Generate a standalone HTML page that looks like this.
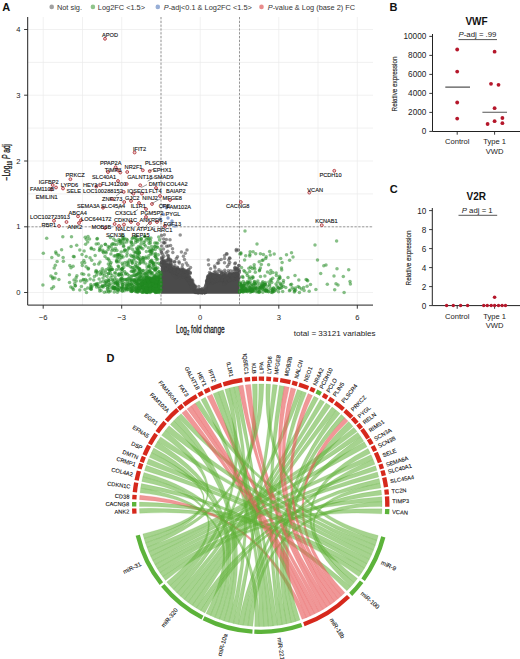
<!DOCTYPE html>
<html><head><meta charset="utf-8"><style>
html,body{margin:0;padding:0;background:#fff;}
body{width:520px;height:659px;overflow:hidden;}
svg{display:block;font-family:'Liberation Sans', sans-serif;}
</style></head><body>
<svg width="520" height="659" viewBox="0 0 520 659">
<path d="M43.2 17V305.1M82.5 17V305.1M121.7 17V305.1M161 17V305.1M200.2 17V305.1M239.5 17V305.1M278.8 17V305.1M318 17V305.1M357.3 17V305.1M27.7 292.5H373M27.7 259.6H373M27.7 226.8H373M27.7 193.9H373M27.7 161H373M27.7 128.1H373M27.7 95.2H373M27.7 62.4H373M27.7 29.5H373" stroke="#ebebeb" stroke-width="0.7" fill="none"/>
<path d="M161.0 293.8 L161.0 262.9 L162.3 263.6 L163.6 264.2 L164.9 264.9 L166.2 265.5 L167.5 266.6 L168.8 267.7 L170.2 268.8 L171.5 269.9 L172.8 271.0 L174.1 272.1 L175.4 272.3 L176.7 272.4 L178.0 272.6 L179.3 272.7 L180.6 272.8 L181.9 273.0 L183.2 273.1 L184.5 273.3 L185.9 273.4 L187.2 275.5 L188.5 277.7 L189.8 279.8 L191.1 282.1 L192.4 284.4 L193.7 286.7 L195.0 289.0 L196.3 291.2 L197.6 292.5 L198.9 292.5 L200.2 292.5 L201.6 292.5 L202.9 292.5 L204.2 292.5 L205.5 289.9 L206.8 284.0 L208.1 280.2 L209.4 279.1 L210.7 278.0 L212.0 278.0 L213.3 278.0 L214.6 278.0 L216.0 278.0 L217.3 278.0 L218.6 278.0 L219.9 278.0 L221.2 278.0 L222.5 278.0 L223.8 278.0 L225.1 278.0 L226.4 278.0 L227.7 278.0 L229.0 277.6 L230.3 277.2 L231.7 276.9 L233.0 276.5 L234.3 276.1 L235.6 275.6 L236.9 275.1 L238.2 274.6 L239.5 274.1 L239.5 293.8Z" fill="#4b4b4b"/><g fill="#228b22" fill-opacity="0.55"><circle cx="157.1" cy="277.6" r="1.75"/><circle cx="151.8" cy="279.4" r="1.75"/><circle cx="141.9" cy="285.3" r="1.75"/><circle cx="160.2" cy="291.0" r="1.75"/><circle cx="159.0" cy="279.8" r="1.75"/><circle cx="96.5" cy="287.0" r="1.75"/><circle cx="159.8" cy="280.8" r="1.75"/><circle cx="157.8" cy="282.6" r="1.75"/><circle cx="156.0" cy="284.8" r="1.75"/><circle cx="149.0" cy="278.2" r="1.75"/><circle cx="155.1" cy="285.3" r="1.75"/><circle cx="147.1" cy="288.2" r="1.75"/><circle cx="143.7" cy="283.9" r="1.75"/><circle cx="158.8" cy="282.2" r="1.75"/><circle cx="136.0" cy="290.8" r="1.75"/><circle cx="137.9" cy="292.3" r="1.75"/><circle cx="114.6" cy="288.0" r="1.75"/><circle cx="110.9" cy="283.7" r="1.75"/><circle cx="131.4" cy="284.1" r="1.75"/><circle cx="138.3" cy="284.4" r="1.75"/><circle cx="152.0" cy="287.9" r="1.75"/><circle cx="151.5" cy="289.4" r="1.75"/><circle cx="150.1" cy="287.2" r="1.75"/><circle cx="145.5" cy="282.6" r="1.75"/><circle cx="121.0" cy="280.0" r="1.75"/><circle cx="146.4" cy="287.3" r="1.75"/><circle cx="138.5" cy="291.1" r="1.75"/><circle cx="93.7" cy="280.1" r="1.75"/><circle cx="160.4" cy="287.6" r="1.75"/><circle cx="152.6" cy="283.2" r="1.75"/><circle cx="142.5" cy="282.4" r="1.75"/><circle cx="155.4" cy="282.6" r="1.75"/><circle cx="108.9" cy="292.1" r="1.75"/><circle cx="152.7" cy="290.5" r="1.75"/><circle cx="154.9" cy="282.6" r="1.75"/><circle cx="139.9" cy="289.1" r="1.75"/><circle cx="157.1" cy="289.4" r="1.75"/><circle cx="150.8" cy="280.3" r="1.75"/><circle cx="158.5" cy="289.1" r="1.75"/><circle cx="160.0" cy="286.9" r="1.75"/><circle cx="155.3" cy="292.4" r="1.75"/><circle cx="154.5" cy="287.0" r="1.75"/><circle cx="141.6" cy="288.1" r="1.75"/><circle cx="146.8" cy="291.1" r="1.75"/><circle cx="109.6" cy="287.4" r="1.75"/><circle cx="151.6" cy="277.8" r="1.75"/><circle cx="160.9" cy="284.6" r="1.75"/><circle cx="155.7" cy="291.0" r="1.75"/><circle cx="156.5" cy="284.0" r="1.75"/><circle cx="160.0" cy="280.1" r="1.75"/><circle cx="160.8" cy="281.4" r="1.75"/><circle cx="156.8" cy="284.0" r="1.75"/><circle cx="110.5" cy="290.9" r="1.75"/><circle cx="151.5" cy="283.1" r="1.75"/><circle cx="145.5" cy="290.3" r="1.75"/><circle cx="157.0" cy="276.9" r="1.75"/><circle cx="158.0" cy="291.1" r="1.75"/><circle cx="160.0" cy="280.8" r="1.75"/><circle cx="146.2" cy="289.8" r="1.75"/><circle cx="150.6" cy="282.2" r="1.75"/><circle cx="152.5" cy="290.1" r="1.75"/><circle cx="140.0" cy="283.5" r="1.75"/><circle cx="159.5" cy="285.4" r="1.75"/><circle cx="155.9" cy="281.9" r="1.75"/><circle cx="143.6" cy="280.3" r="1.75"/><circle cx="128.3" cy="287.2" r="1.75"/><circle cx="159.4" cy="273.9" r="1.75"/><circle cx="105.8" cy="285.3" r="1.75"/><circle cx="150.3" cy="278.2" r="1.75"/><circle cx="160.8" cy="285.2" r="1.75"/><circle cx="159.7" cy="283.4" r="1.75"/><circle cx="158.7" cy="275.9" r="1.75"/><circle cx="137.7" cy="290.2" r="1.75"/><circle cx="144.5" cy="277.2" r="1.75"/><circle cx="87.7" cy="288.1" r="1.75"/><circle cx="157.1" cy="276.0" r="1.75"/><circle cx="155.7" cy="268.3" r="1.75"/><circle cx="142.0" cy="288.9" r="1.75"/><circle cx="149.2" cy="271.4" r="1.75"/><circle cx="141.1" cy="287.0" r="1.75"/><circle cx="156.3" cy="284.9" r="1.75"/><circle cx="147.8" cy="291.5" r="1.75"/><circle cx="158.0" cy="289.5" r="1.75"/><circle cx="102.0" cy="286.8" r="1.75"/><circle cx="159.5" cy="277.4" r="1.75"/><circle cx="158.0" cy="281.1" r="1.75"/><circle cx="141.4" cy="287.3" r="1.75"/><circle cx="159.4" cy="289.3" r="1.75"/><circle cx="131.3" cy="279.4" r="1.75"/><circle cx="141.5" cy="277.6" r="1.75"/><circle cx="119.4" cy="274.6" r="1.75"/><circle cx="137.9" cy="283.7" r="1.75"/><circle cx="146.0" cy="276.5" r="1.75"/><circle cx="155.5" cy="292.0" r="1.75"/><circle cx="122.4" cy="291.0" r="1.75"/><circle cx="153.2" cy="278.7" r="1.75"/><circle cx="144.6" cy="290.4" r="1.75"/><circle cx="155.4" cy="289.5" r="1.75"/><circle cx="129.3" cy="278.5" r="1.75"/><circle cx="146.6" cy="280.6" r="1.75"/><circle cx="130.9" cy="284.3" r="1.75"/><circle cx="108.3" cy="279.6" r="1.75"/><circle cx="159.7" cy="278.0" r="1.75"/><circle cx="134.5" cy="282.1" r="1.75"/><circle cx="148.3" cy="284.0" r="1.75"/><circle cx="130.4" cy="291.1" r="1.75"/><circle cx="142.7" cy="282.6" r="1.75"/><circle cx="154.2" cy="290.8" r="1.75"/><circle cx="159.2" cy="280.7" r="1.75"/><circle cx="110.9" cy="277.5" r="1.75"/><circle cx="150.5" cy="283.1" r="1.75"/><circle cx="154.4" cy="291.4" r="1.75"/><circle cx="124.3" cy="290.8" r="1.75"/><circle cx="156.5" cy="281.4" r="1.75"/><circle cx="124.3" cy="279.4" r="1.75"/><circle cx="145.9" cy="292.2" r="1.75"/><circle cx="159.3" cy="290.6" r="1.75"/><circle cx="159.1" cy="287.6" r="1.75"/><circle cx="114.3" cy="288.2" r="1.75"/><circle cx="143.2" cy="288.2" r="1.75"/><circle cx="157.6" cy="290.3" r="1.75"/><circle cx="149.3" cy="289.1" r="1.75"/><circle cx="159.1" cy="288.2" r="1.75"/><circle cx="157.3" cy="291.6" r="1.75"/><circle cx="158.6" cy="286.5" r="1.75"/><circle cx="117.4" cy="292.2" r="1.75"/><circle cx="145.1" cy="289.2" r="1.75"/><circle cx="159.2" cy="271.6" r="1.75"/><circle cx="158.7" cy="288.0" r="1.75"/><circle cx="157.2" cy="289.7" r="1.75"/><circle cx="99.1" cy="279.0" r="1.75"/><circle cx="108.7" cy="273.4" r="1.75"/><circle cx="140.3" cy="276.5" r="1.75"/><circle cx="158.7" cy="281.6" r="1.75"/><circle cx="154.9" cy="291.4" r="1.75"/><circle cx="146.8" cy="270.0" r="1.75"/><circle cx="155.7" cy="288.9" r="1.75"/><circle cx="155.7" cy="281.4" r="1.75"/><circle cx="159.7" cy="290.5" r="1.75"/><circle cx="106.0" cy="269.8" r="1.75"/><circle cx="132.2" cy="271.2" r="1.75"/><circle cx="105.1" cy="283.1" r="1.75"/><circle cx="152.1" cy="290.8" r="1.75"/><circle cx="152.1" cy="280.5" r="1.75"/><circle cx="108.3" cy="282.2" r="1.75"/><circle cx="150.5" cy="278.3" r="1.75"/><circle cx="156.0" cy="282.1" r="1.75"/><circle cx="139.6" cy="279.1" r="1.75"/><circle cx="158.8" cy="285.5" r="1.75"/><circle cx="151.4" cy="282.3" r="1.75"/><circle cx="122.5" cy="284.7" r="1.75"/><circle cx="147.3" cy="282.4" r="1.75"/><circle cx="158.9" cy="284.6" r="1.75"/><circle cx="131.8" cy="281.5" r="1.75"/><circle cx="153.6" cy="285.1" r="1.75"/><circle cx="135.4" cy="291.6" r="1.75"/><circle cx="156.5" cy="288.5" r="1.75"/><circle cx="147.2" cy="284.3" r="1.75"/><circle cx="139.6" cy="290.3" r="1.75"/><circle cx="143.9" cy="275.1" r="1.75"/><circle cx="157.1" cy="290.0" r="1.75"/><circle cx="158.0" cy="288.9" r="1.75"/><circle cx="151.9" cy="286.3" r="1.75"/><circle cx="80.5" cy="281.0" r="1.75"/><circle cx="158.9" cy="276.7" r="1.75"/><circle cx="150.1" cy="289.6" r="1.75"/><circle cx="113.8" cy="282.0" r="1.75"/><circle cx="159.7" cy="279.7" r="1.75"/><circle cx="147.3" cy="277.2" r="1.75"/><circle cx="155.7" cy="290.8" r="1.75"/><circle cx="153.2" cy="284.3" r="1.75"/><circle cx="147.1" cy="292.4" r="1.75"/><circle cx="155.5" cy="286.1" r="1.75"/><circle cx="117.9" cy="289.6" r="1.75"/><circle cx="149.6" cy="278.2" r="1.75"/><circle cx="136.6" cy="288.9" r="1.75"/><circle cx="157.4" cy="291.2" r="1.75"/><circle cx="91.1" cy="289.3" r="1.75"/><circle cx="145.6" cy="292.0" r="1.75"/><circle cx="159.9" cy="284.8" r="1.75"/><circle cx="117.5" cy="284.4" r="1.75"/><circle cx="127.3" cy="289.1" r="1.75"/><circle cx="131.6" cy="291.5" r="1.75"/><circle cx="149.8" cy="270.3" r="1.75"/><circle cx="125.7" cy="288.6" r="1.75"/><circle cx="143.7" cy="290.8" r="1.75"/><circle cx="140.7" cy="273.6" r="1.75"/><circle cx="159.5" cy="292.4" r="1.75"/><circle cx="151.8" cy="282.4" r="1.75"/><circle cx="151.5" cy="286.3" r="1.75"/><circle cx="143.0" cy="284.2" r="1.75"/><circle cx="126.8" cy="287.9" r="1.75"/><circle cx="145.6" cy="289.5" r="1.75"/><circle cx="146.1" cy="291.3" r="1.75"/><circle cx="153.3" cy="285.5" r="1.75"/><circle cx="155.5" cy="287.4" r="1.75"/><circle cx="151.6" cy="287.0" r="1.75"/><circle cx="160.1" cy="281.8" r="1.75"/><circle cx="152.7" cy="285.9" r="1.75"/><circle cx="139.7" cy="287.2" r="1.75"/><circle cx="147.8" cy="273.7" r="1.75"/><circle cx="90.9" cy="287.4" r="1.75"/><circle cx="156.1" cy="278.8" r="1.75"/><circle cx="131.1" cy="280.4" r="1.75"/><circle cx="147.9" cy="291.1" r="1.75"/><circle cx="144.9" cy="279.4" r="1.75"/><circle cx="152.5" cy="288.3" r="1.75"/><circle cx="157.0" cy="286.3" r="1.75"/><circle cx="144.4" cy="283.6" r="1.75"/><circle cx="136.5" cy="291.8" r="1.75"/><circle cx="149.6" cy="281.4" r="1.75"/><circle cx="160.2" cy="279.7" r="1.75"/><circle cx="158.9" cy="282.8" r="1.75"/><circle cx="142.8" cy="279.3" r="1.75"/><circle cx="132.0" cy="290.9" r="1.75"/><circle cx="159.9" cy="287.3" r="1.75"/><circle cx="137.5" cy="289.6" r="1.75"/><circle cx="134.1" cy="275.2" r="1.75"/><circle cx="157.0" cy="283.4" r="1.75"/><circle cx="135.9" cy="276.0" r="1.75"/><circle cx="147.8" cy="291.7" r="1.75"/><circle cx="139.8" cy="291.2" r="1.75"/><circle cx="122.3" cy="290.9" r="1.75"/><circle cx="158.1" cy="287.8" r="1.75"/><circle cx="158.8" cy="279.1" r="1.75"/><circle cx="122.6" cy="284.6" r="1.75"/><circle cx="156.3" cy="283.9" r="1.75"/><circle cx="149.2" cy="289.1" r="1.75"/><circle cx="113.1" cy="287.0" r="1.75"/><circle cx="142.3" cy="285.8" r="1.75"/><circle cx="75.4" cy="285.7" r="1.75"/><circle cx="160.0" cy="289.0" r="1.75"/><circle cx="159.4" cy="286.3" r="1.75"/><circle cx="153.8" cy="283.8" r="1.75"/><circle cx="142.8" cy="288.2" r="1.75"/><circle cx="159.6" cy="283.6" r="1.75"/><circle cx="160.4" cy="291.3" r="1.75"/><circle cx="154.9" cy="290.4" r="1.75"/><circle cx="153.4" cy="289.5" r="1.75"/><circle cx="126.9" cy="290.1" r="1.75"/><circle cx="154.7" cy="290.5" r="1.75"/><circle cx="160.8" cy="275.5" r="1.75"/><circle cx="158.6" cy="277.7" r="1.75"/><circle cx="155.3" cy="285.2" r="1.75"/><circle cx="144.2" cy="287.3" r="1.75"/><circle cx="142.0" cy="280.2" r="1.75"/><circle cx="132.7" cy="290.5" r="1.75"/><circle cx="147.6" cy="292.1" r="1.75"/><circle cx="103.3" cy="287.1" r="1.75"/><circle cx="155.8" cy="278.1" r="1.75"/><circle cx="158.3" cy="290.8" r="1.75"/><circle cx="148.9" cy="281.5" r="1.75"/><circle cx="154.5" cy="284.2" r="1.75"/><circle cx="132.7" cy="280.0" r="1.75"/><circle cx="159.4" cy="282.1" r="1.75"/><circle cx="147.0" cy="285.7" r="1.75"/><circle cx="114.4" cy="287.8" r="1.75"/><circle cx="150.1" cy="292.5" r="1.75"/><circle cx="152.9" cy="286.1" r="1.75"/><circle cx="157.0" cy="285.7" r="1.75"/><circle cx="106.2" cy="283.0" r="1.75"/><circle cx="146.8" cy="275.3" r="1.75"/><circle cx="117.4" cy="281.4" r="1.75"/><circle cx="122.8" cy="282.6" r="1.75"/><circle cx="125.7" cy="279.4" r="1.75"/><circle cx="159.0" cy="289.7" r="1.75"/><circle cx="157.9" cy="286.4" r="1.75"/><circle cx="137.9" cy="274.2" r="1.75"/><circle cx="155.1" cy="269.6" r="1.75"/><circle cx="156.2" cy="284.8" r="1.75"/><circle cx="140.6" cy="280.9" r="1.75"/><circle cx="149.5" cy="281.1" r="1.75"/><circle cx="154.5" cy="281.8" r="1.75"/><circle cx="154.2" cy="281.9" r="1.75"/><circle cx="155.0" cy="278.9" r="1.75"/><circle cx="159.6" cy="283.3" r="1.75"/><circle cx="100.7" cy="282.1" r="1.75"/><circle cx="140.0" cy="289.6" r="1.75"/><circle cx="157.2" cy="285.1" r="1.75"/><circle cx="156.1" cy="292.2" r="1.75"/><circle cx="143.6" cy="281.4" r="1.75"/><circle cx="149.3" cy="279.7" r="1.75"/><circle cx="159.8" cy="289.0" r="1.75"/><circle cx="160.8" cy="279.8" r="1.75"/><circle cx="151.1" cy="272.5" r="1.75"/><circle cx="129.3" cy="275.8" r="1.75"/><circle cx="145.6" cy="283.7" r="1.75"/><circle cx="144.2" cy="291.3" r="1.75"/><circle cx="142.8" cy="286.4" r="1.75"/><circle cx="147.1" cy="273.2" r="1.75"/><circle cx="149.8" cy="290.0" r="1.75"/><circle cx="145.2" cy="280.2" r="1.75"/><circle cx="157.0" cy="280.3" r="1.75"/><circle cx="155.7" cy="286.0" r="1.75"/><circle cx="158.1" cy="289.3" r="1.75"/><circle cx="160.0" cy="287.2" r="1.75"/><circle cx="123.9" cy="286.1" r="1.75"/><circle cx="152.0" cy="290.1" r="1.75"/><circle cx="160.9" cy="283.8" r="1.75"/><circle cx="154.1" cy="286.3" r="1.75"/><circle cx="137.4" cy="291.4" r="1.75"/><circle cx="156.0" cy="281.6" r="1.75"/><circle cx="156.0" cy="284.1" r="1.75"/><circle cx="136.6" cy="267.1" r="1.75"/><circle cx="159.0" cy="288.1" r="1.75"/><circle cx="160.9" cy="272.7" r="1.75"/><circle cx="115.8" cy="288.2" r="1.75"/><circle cx="157.4" cy="290.7" r="1.75"/><circle cx="147.0" cy="284.4" r="1.75"/><circle cx="146.1" cy="287.9" r="1.75"/><circle cx="157.4" cy="288.3" r="1.75"/><circle cx="160.2" cy="287.8" r="1.75"/><circle cx="159.7" cy="291.8" r="1.75"/><circle cx="101.1" cy="290.6" r="1.75"/><circle cx="152.1" cy="286.6" r="1.75"/><circle cx="160.8" cy="282.2" r="1.75"/><circle cx="150.7" cy="291.2" r="1.75"/><circle cx="141.2" cy="283.6" r="1.75"/><circle cx="148.4" cy="286.5" r="1.75"/><circle cx="138.7" cy="288.0" r="1.75"/><circle cx="113.2" cy="287.9" r="1.75"/><circle cx="138.8" cy="268.7" r="1.75"/><circle cx="156.3" cy="290.1" r="1.75"/><circle cx="153.6" cy="282.9" r="1.75"/><circle cx="161.0" cy="274.5" r="1.75"/><circle cx="147.1" cy="292.0" r="1.75"/><circle cx="144.4" cy="290.1" r="1.75"/><circle cx="141.6" cy="282.9" r="1.75"/><circle cx="160.3" cy="277.0" r="1.75"/><circle cx="135.4" cy="289.6" r="1.75"/><circle cx="139.1" cy="289.2" r="1.75"/><circle cx="106.6" cy="291.7" r="1.75"/><circle cx="153.3" cy="281.4" r="1.75"/><circle cx="144.9" cy="282.2" r="1.75"/><circle cx="120.3" cy="290.2" r="1.75"/><circle cx="155.1" cy="276.7" r="1.75"/><circle cx="157.4" cy="291.2" r="1.75"/><circle cx="94.4" cy="276.6" r="1.75"/><circle cx="135.9" cy="283.3" r="1.75"/><circle cx="142.5" cy="292.3" r="1.75"/><circle cx="145.3" cy="284.1" r="1.75"/><circle cx="146.0" cy="282.6" r="1.75"/><circle cx="150.9" cy="279.0" r="1.75"/><circle cx="160.7" cy="290.0" r="1.75"/><circle cx="149.6" cy="287.3" r="1.75"/><circle cx="138.6" cy="279.0" r="1.75"/><circle cx="117.8" cy="283.9" r="1.75"/><circle cx="156.9" cy="290.3" r="1.75"/><circle cx="157.1" cy="291.7" r="1.75"/><circle cx="143.6" cy="292.0" r="1.75"/><circle cx="159.3" cy="281.9" r="1.75"/><circle cx="134.4" cy="286.5" r="1.75"/><circle cx="159.0" cy="287.6" r="1.75"/><circle cx="149.8" cy="291.7" r="1.75"/><circle cx="118.1" cy="290.2" r="1.75"/><circle cx="154.9" cy="290.2" r="1.75"/><circle cx="157.3" cy="272.8" r="1.75"/><circle cx="142.7" cy="286.5" r="1.75"/><circle cx="134.1" cy="290.1" r="1.75"/><circle cx="145.2" cy="289.9" r="1.75"/><circle cx="160.4" cy="286.8" r="1.75"/><circle cx="154.1" cy="288.2" r="1.75"/><circle cx="160.7" cy="288.5" r="1.75"/><circle cx="136.5" cy="283.4" r="1.75"/><circle cx="160.1" cy="278.8" r="1.75"/><circle cx="104.3" cy="292.3" r="1.75"/><circle cx="149.0" cy="281.3" r="1.75"/><circle cx="156.2" cy="290.2" r="1.75"/><circle cx="134.4" cy="281.7" r="1.75"/><circle cx="145.7" cy="283.8" r="1.75"/><circle cx="143.2" cy="292.1" r="1.75"/><circle cx="160.5" cy="279.5" r="1.75"/><circle cx="146.2" cy="287.1" r="1.75"/><circle cx="160.9" cy="289.7" r="1.75"/><circle cx="157.8" cy="279.5" r="1.75"/><circle cx="131.7" cy="283.9" r="1.75"/><circle cx="137.9" cy="273.4" r="1.75"/><circle cx="151.8" cy="288.7" r="1.75"/><circle cx="158.3" cy="290.1" r="1.75"/><circle cx="137.9" cy="281.0" r="1.75"/><circle cx="160.2" cy="272.7" r="1.75"/><circle cx="134.5" cy="280.4" r="1.75"/><circle cx="139.6" cy="269.6" r="1.75"/><circle cx="156.0" cy="278.0" r="1.75"/><circle cx="138.8" cy="284.7" r="1.75"/><circle cx="148.2" cy="289.0" r="1.75"/><circle cx="134.3" cy="270.0" r="1.75"/><circle cx="150.8" cy="291.6" r="1.75"/><circle cx="156.5" cy="288.3" r="1.75"/><circle cx="108.8" cy="291.1" r="1.75"/><circle cx="83.0" cy="280.0" r="1.75"/><circle cx="122.9" cy="288.0" r="1.75"/><circle cx="156.6" cy="291.6" r="1.75"/><circle cx="130.8" cy="289.3" r="1.75"/><circle cx="148.9" cy="289.1" r="1.75"/><circle cx="152.5" cy="282.9" r="1.75"/><circle cx="134.4" cy="280.3" r="1.75"/><circle cx="156.4" cy="283.3" r="1.75"/><circle cx="158.0" cy="284.2" r="1.75"/><circle cx="155.2" cy="278.0" r="1.75"/><circle cx="145.2" cy="288.9" r="1.75"/><circle cx="142.0" cy="285.1" r="1.75"/><circle cx="157.2" cy="292.0" r="1.75"/><circle cx="141.3" cy="286.6" r="1.75"/><circle cx="133.9" cy="272.5" r="1.75"/><circle cx="157.2" cy="282.4" r="1.75"/><circle cx="147.3" cy="291.7" r="1.75"/><circle cx="158.8" cy="286.6" r="1.75"/><circle cx="153.4" cy="279.1" r="1.75"/><circle cx="140.0" cy="273.1" r="1.75"/><circle cx="95.8" cy="284.6" r="1.75"/><circle cx="138.1" cy="290.7" r="1.75"/><circle cx="155.3" cy="286.8" r="1.75"/><circle cx="143.1" cy="285.2" r="1.75"/><circle cx="153.3" cy="284.5" r="1.75"/><circle cx="158.7" cy="283.5" r="1.75"/><circle cx="132.5" cy="285.5" r="1.75"/><circle cx="128.8" cy="284.0" r="1.75"/><circle cx="141.8" cy="291.7" r="1.75"/><circle cx="155.3" cy="290.9" r="1.75"/><circle cx="149.3" cy="279.5" r="1.75"/><circle cx="140.7" cy="284.2" r="1.75"/><circle cx="151.7" cy="291.5" r="1.75"/><circle cx="142.7" cy="288.2" r="1.75"/><circle cx="136.0" cy="279.3" r="1.75"/><circle cx="152.0" cy="285.3" r="1.75"/><circle cx="141.5" cy="284.5" r="1.75"/><circle cx="156.2" cy="281.3" r="1.75"/><circle cx="144.8" cy="285.8" r="1.75"/><circle cx="149.1" cy="281.0" r="1.75"/><circle cx="124.8" cy="289.1" r="1.75"/><circle cx="155.9" cy="283.1" r="1.75"/><circle cx="157.0" cy="285.6" r="1.75"/><circle cx="146.1" cy="292.0" r="1.75"/><circle cx="151.1" cy="288.7" r="1.75"/><circle cx="130.9" cy="279.1" r="1.75"/><circle cx="145.2" cy="280.4" r="1.75"/><circle cx="152.5" cy="284.1" r="1.75"/><circle cx="99.7" cy="290.9" r="1.75"/><circle cx="152.3" cy="283.9" r="1.75"/><circle cx="145.2" cy="287.5" r="1.75"/><circle cx="137.3" cy="291.1" r="1.75"/><circle cx="140.2" cy="279.9" r="1.75"/><circle cx="129.4" cy="287.8" r="1.75"/><circle cx="150.9" cy="285.7" r="1.75"/><circle cx="141.8" cy="280.7" r="1.75"/><circle cx="160.4" cy="290.3" r="1.75"/><circle cx="137.7" cy="286.9" r="1.75"/><circle cx="153.9" cy="278.6" r="1.75"/><circle cx="86.5" cy="292.4" r="1.75"/><circle cx="159.6" cy="283.9" r="1.75"/><circle cx="115.7" cy="283.7" r="1.75"/><circle cx="96.6" cy="275.0" r="1.75"/><circle cx="152.5" cy="272.7" r="1.75"/><circle cx="157.1" cy="291.2" r="1.75"/><circle cx="156.0" cy="290.2" r="1.75"/><circle cx="159.2" cy="282.2" r="1.75"/><circle cx="157.2" cy="291.5" r="1.75"/><circle cx="156.3" cy="287.7" r="1.75"/><circle cx="160.5" cy="280.1" r="1.75"/><circle cx="132.4" cy="290.6" r="1.75"/><circle cx="151.3" cy="288.8" r="1.75"/><circle cx="151.6" cy="287.8" r="1.75"/><circle cx="149.4" cy="290.7" r="1.75"/><circle cx="116.8" cy="279.8" r="1.75"/><circle cx="135.0" cy="275.5" r="1.75"/><circle cx="153.0" cy="283.2" r="1.75"/><circle cx="149.0" cy="285.6" r="1.75"/><circle cx="156.6" cy="288.5" r="1.75"/><circle cx="158.3" cy="288.7" r="1.75"/><circle cx="156.4" cy="274.0" r="1.75"/><circle cx="137.5" cy="267.8" r="1.75"/><circle cx="151.2" cy="286.8" r="1.75"/><circle cx="158.3" cy="289.5" r="1.75"/><circle cx="155.9" cy="287.0" r="1.75"/><circle cx="150.6" cy="289.2" r="1.75"/><circle cx="143.9" cy="291.0" r="1.75"/><circle cx="160.6" cy="281.6" r="1.75"/><circle cx="160.8" cy="284.4" r="1.75"/><circle cx="159.9" cy="291.1" r="1.75"/><circle cx="149.2" cy="291.8" r="1.75"/><circle cx="157.5" cy="291.9" r="1.75"/><circle cx="124.5" cy="271.6" r="1.75"/><circle cx="136.0" cy="290.1" r="1.75"/><circle cx="157.0" cy="291.4" r="1.75"/><circle cx="98.0" cy="283.4" r="1.75"/><circle cx="157.3" cy="289.2" r="1.75"/><circle cx="149.4" cy="287.6" r="1.75"/><circle cx="131.5" cy="287.3" r="1.75"/><circle cx="147.5" cy="291.1" r="1.75"/><circle cx="158.0" cy="288.8" r="1.75"/><circle cx="158.5" cy="292.0" r="1.75"/><circle cx="159.8" cy="275.2" r="1.75"/><circle cx="152.3" cy="262.4" r="1.75"/><circle cx="139.0" cy="271.2" r="1.75"/><circle cx="96.3" cy="284.9" r="1.75"/><circle cx="141.8" cy="292.0" r="1.75"/><circle cx="147.9" cy="276.5" r="1.75"/><circle cx="86.8" cy="280.8" r="1.75"/><circle cx="147.0" cy="280.0" r="1.75"/><circle cx="130.3" cy="266.8" r="1.75"/><circle cx="152.9" cy="289.5" r="1.75"/><circle cx="154.9" cy="284.5" r="1.75"/><circle cx="145.2" cy="291.2" r="1.75"/><circle cx="153.5" cy="285.6" r="1.75"/><circle cx="131.9" cy="291.3" r="1.75"/><circle cx="142.8" cy="270.5" r="1.75"/><circle cx="160.3" cy="283.0" r="1.75"/><circle cx="138.5" cy="280.0" r="1.75"/><circle cx="79.8" cy="290.0" r="1.75"/><circle cx="147.2" cy="279.3" r="1.75"/><circle cx="114.2" cy="292.0" r="1.75"/><circle cx="150.8" cy="282.8" r="1.75"/><circle cx="114.8" cy="287.6" r="1.75"/><circle cx="147.0" cy="281.6" r="1.75"/><circle cx="151.6" cy="279.6" r="1.75"/><circle cx="153.5" cy="278.1" r="1.75"/><circle cx="121.8" cy="278.4" r="1.75"/><circle cx="155.1" cy="288.5" r="1.75"/><circle cx="136.9" cy="281.9" r="1.75"/><circle cx="151.5" cy="251.6" r="1.75"/><circle cx="110.0" cy="270.0" r="1.75"/><circle cx="154.4" cy="275.5" r="1.75"/><circle cx="128.3" cy="262.3" r="1.75"/><circle cx="129.5" cy="281.3" r="1.75"/><circle cx="109.6" cy="270.7" r="1.75"/><circle cx="122.2" cy="263.3" r="1.75"/><circle cx="116.6" cy="260.4" r="1.75"/><circle cx="159.0" cy="271.5" r="1.75"/><circle cx="135.5" cy="252.7" r="1.75"/><circle cx="133.1" cy="244.8" r="1.75"/><circle cx="122.6" cy="238.4" r="1.75"/><circle cx="139.6" cy="263.7" r="1.75"/><circle cx="46.7" cy="238.3" r="1.75"/><circle cx="137.3" cy="240.1" r="1.75"/><circle cx="117.2" cy="258.1" r="1.75"/><circle cx="102.6" cy="285.5" r="1.75"/><circle cx="119.9" cy="258.9" r="1.75"/><circle cx="149.4" cy="265.4" r="1.75"/><circle cx="137.8" cy="255.2" r="1.75"/><circle cx="120.2" cy="279.3" r="1.75"/><circle cx="144.7" cy="236.4" r="1.75"/><circle cx="104.5" cy="275.5" r="1.75"/><circle cx="122.1" cy="236.0" r="1.75"/><circle cx="122.5" cy="279.1" r="1.75"/><circle cx="153.7" cy="268.5" r="1.75"/><circle cx="133.4" cy="256.5" r="1.75"/><circle cx="139.2" cy="279.9" r="1.75"/><circle cx="105.6" cy="272.4" r="1.75"/><circle cx="142.8" cy="257.7" r="1.75"/><circle cx="136.0" cy="252.1" r="1.75"/><circle cx="137.4" cy="241.5" r="1.75"/><circle cx="94.4" cy="264.2" r="1.75"/><circle cx="149.0" cy="238.5" r="1.75"/><circle cx="143.7" cy="278.8" r="1.75"/><circle cx="151.4" cy="260.9" r="1.75"/><circle cx="105.7" cy="251.8" r="1.75"/><circle cx="148.0" cy="287.5" r="1.75"/><circle cx="125.3" cy="249.9" r="1.75"/><circle cx="99.8" cy="247.9" r="1.75"/><circle cx="153.2" cy="263.6" r="1.75"/><circle cx="119.9" cy="241.0" r="1.75"/><circle cx="119.6" cy="255.4" r="1.75"/><circle cx="136.8" cy="274.5" r="1.75"/><circle cx="91.2" cy="248.7" r="1.75"/><circle cx="118.1" cy="266.1" r="1.75"/><circle cx="105.0" cy="256.4" r="1.75"/><circle cx="71.5" cy="236.7" r="1.75"/><circle cx="95.2" cy="255.6" r="1.75"/><circle cx="99.4" cy="250.5" r="1.75"/><circle cx="141.2" cy="248.0" r="1.75"/><circle cx="115.9" cy="282.6" r="1.75"/><circle cx="132.1" cy="289.0" r="1.75"/><circle cx="122.0" cy="287.7" r="1.75"/><circle cx="111.4" cy="269.2" r="1.75"/><circle cx="136.0" cy="238.3" r="1.75"/><circle cx="140.4" cy="270.2" r="1.75"/><circle cx="145.0" cy="241.0" r="1.75"/><circle cx="128.2" cy="278.2" r="1.75"/><circle cx="126.9" cy="285.2" r="1.75"/><circle cx="150.7" cy="272.4" r="1.75"/><circle cx="155.1" cy="246.2" r="1.75"/><circle cx="124.1" cy="238.1" r="1.75"/><circle cx="122.8" cy="265.0" r="1.75"/><circle cx="151.8" cy="273.8" r="1.75"/><circle cx="138.1" cy="249.9" r="1.75"/><circle cx="133.7" cy="271.4" r="1.75"/><circle cx="76.1" cy="277.8" r="1.75"/><circle cx="55.7" cy="251.9" r="1.75"/><circle cx="143.0" cy="287.5" r="1.75"/><circle cx="114.6" cy="250.6" r="1.75"/><circle cx="97.0" cy="239.0" r="1.75"/><circle cx="53.6" cy="286.7" r="1.75"/><circle cx="152.4" cy="250.2" r="1.75"/><circle cx="138.3" cy="289.4" r="1.75"/><circle cx="117.2" cy="285.9" r="1.75"/><circle cx="137.5" cy="278.3" r="1.75"/><circle cx="136.0" cy="236.0" r="1.75"/><circle cx="157.0" cy="288.5" r="1.75"/><circle cx="154.6" cy="269.6" r="1.75"/><circle cx="143.3" cy="270.4" r="1.75"/><circle cx="149.9" cy="283.7" r="1.75"/><circle cx="134.8" cy="237.4" r="1.75"/><circle cx="143.8" cy="242.5" r="1.75"/><circle cx="135.5" cy="264.7" r="1.75"/><circle cx="155.1" cy="254.5" r="1.75"/><circle cx="152.0" cy="252.6" r="1.75"/><circle cx="118.1" cy="256.9" r="1.75"/><circle cx="115.5" cy="248.5" r="1.75"/><circle cx="98.3" cy="243.8" r="1.75"/><circle cx="118.4" cy="285.2" r="1.75"/><circle cx="136.7" cy="287.2" r="1.75"/><circle cx="109.1" cy="269.8" r="1.75"/><circle cx="147.8" cy="286.5" r="1.75"/><circle cx="100.0" cy="261.9" r="1.75"/><circle cx="159.5" cy="239.9" r="1.75"/><circle cx="142.2" cy="284.1" r="1.75"/><circle cx="113.0" cy="286.2" r="1.75"/><circle cx="128.1" cy="265.4" r="1.75"/><circle cx="103.6" cy="252.7" r="1.75"/><circle cx="153.4" cy="248.7" r="1.75"/><circle cx="121.2" cy="251.9" r="1.75"/><circle cx="112.5" cy="269.2" r="1.75"/><circle cx="111.9" cy="244.2" r="1.75"/><circle cx="153.6" cy="264.9" r="1.75"/><circle cx="73.4" cy="256.4" r="1.75"/><circle cx="130.0" cy="289.8" r="1.75"/><circle cx="71.0" cy="267.7" r="1.75"/><circle cx="118.9" cy="287.3" r="1.75"/><circle cx="145.8" cy="282.1" r="1.75"/><circle cx="146.8" cy="277.8" r="1.75"/><circle cx="132.4" cy="263.0" r="1.75"/><circle cx="159.0" cy="287.7" r="1.75"/><circle cx="119.2" cy="254.6" r="1.75"/><circle cx="138.8" cy="273.0" r="1.75"/><circle cx="106.4" cy="281.8" r="1.75"/><circle cx="146.5" cy="238.9" r="1.75"/><circle cx="137.5" cy="257.7" r="1.75"/><circle cx="155.1" cy="276.1" r="1.75"/><circle cx="147.6" cy="285.9" r="1.75"/><circle cx="131.9" cy="267.8" r="1.75"/><circle cx="138.9" cy="250.9" r="1.75"/><circle cx="148.6" cy="266.5" r="1.75"/><circle cx="146.0" cy="277.4" r="1.75"/><circle cx="130.2" cy="286.3" r="1.75"/><circle cx="154.3" cy="281.6" r="1.75"/><circle cx="61.6" cy="249.7" r="1.75"/><circle cx="133.9" cy="284.4" r="1.75"/><circle cx="85.2" cy="237.2" r="1.75"/><circle cx="127.1" cy="253.5" r="1.75"/><circle cx="97.4" cy="272.5" r="1.75"/><circle cx="117.1" cy="283.2" r="1.75"/><circle cx="88.2" cy="269.1" r="1.75"/><circle cx="89.5" cy="239.1" r="1.75"/><circle cx="136.5" cy="286.1" r="1.75"/><circle cx="147.6" cy="280.6" r="1.75"/><circle cx="132.7" cy="287.7" r="1.75"/><circle cx="150.6" cy="253.9" r="1.75"/><circle cx="126.5" cy="239.2" r="1.75"/><circle cx="146.0" cy="263.9" r="1.75"/><circle cx="103.0" cy="278.0" r="1.75"/><circle cx="132.2" cy="238.4" r="1.75"/><circle cx="136.2" cy="262.2" r="1.75"/><circle cx="141.2" cy="238.6" r="1.75"/><circle cx="102.7" cy="274.1" r="1.75"/><circle cx="137.5" cy="285.0" r="1.75"/><circle cx="121.6" cy="287.9" r="1.75"/><circle cx="83.6" cy="279.5" r="1.75"/><circle cx="103.2" cy="270.9" r="1.75"/><circle cx="146.4" cy="251.4" r="1.75"/><circle cx="119.2" cy="269.0" r="1.75"/><circle cx="85.5" cy="279.4" r="1.75"/><circle cx="131.5" cy="242.6" r="1.75"/><circle cx="143.5" cy="262.8" r="1.75"/><circle cx="143.7" cy="261.2" r="1.75"/><circle cx="128.6" cy="247.8" r="1.75"/><circle cx="108.7" cy="280.7" r="1.75"/><circle cx="141.4" cy="239.1" r="1.75"/><circle cx="90.8" cy="284.4" r="1.75"/><circle cx="152.2" cy="284.4" r="1.75"/><circle cx="138.4" cy="258.5" r="1.75"/><circle cx="111.0" cy="262.4" r="1.75"/><circle cx="136.1" cy="281.3" r="1.75"/><circle cx="58.5" cy="255.2" r="1.75"/><circle cx="70.8" cy="286.9" r="1.75"/><circle cx="155.9" cy="268.6" r="1.75"/><circle cx="118.9" cy="239.5" r="1.75"/><circle cx="150.4" cy="242.9" r="1.75"/><circle cx="150.7" cy="261.2" r="1.75"/><circle cx="151.5" cy="249.5" r="1.75"/><circle cx="143.0" cy="257.6" r="1.75"/><circle cx="136.3" cy="281.1" r="1.75"/><circle cx="76.7" cy="245.3" r="1.75"/><circle cx="109.3" cy="260.7" r="1.75"/><circle cx="118.9" cy="261.7" r="1.75"/><circle cx="123.7" cy="239.1" r="1.75"/><circle cx="149.7" cy="263.8" r="1.75"/><circle cx="140.0" cy="276.6" r="1.75"/><circle cx="96.8" cy="271.5" r="1.75"/><circle cx="108.3" cy="264.0" r="1.75"/><circle cx="114.4" cy="244.4" r="1.75"/><circle cx="154.7" cy="246.4" r="1.75"/><circle cx="114.7" cy="272.8" r="1.75"/><circle cx="157.8" cy="267.9" r="1.75"/><circle cx="151.6" cy="288.6" r="1.75"/><circle cx="108.5" cy="259.1" r="1.75"/><circle cx="137.7" cy="248.9" r="1.75"/><circle cx="84.9" cy="282.8" r="1.75"/><circle cx="156.3" cy="259.3" r="1.75"/><circle cx="108.9" cy="285.2" r="1.75"/><circle cx="71.1" cy="246.6" r="1.75"/><circle cx="56.2" cy="253.5" r="1.75"/><circle cx="123.1" cy="240.3" r="1.75"/><circle cx="52.8" cy="278.7" r="1.75"/><circle cx="147.8" cy="284.0" r="1.75"/><circle cx="140.1" cy="263.1" r="1.75"/><circle cx="107.5" cy="288.3" r="1.75"/><circle cx="148.4" cy="247.7" r="1.75"/><circle cx="116.1" cy="282.5" r="1.75"/><circle cx="104.6" cy="285.5" r="1.75"/><circle cx="42.9" cy="284.9" r="1.75"/><circle cx="117.1" cy="255.1" r="1.75"/><circle cx="147.7" cy="288.6" r="1.75"/><circle cx="121.9" cy="271.6" r="1.75"/><circle cx="74.7" cy="283.5" r="1.75"/><circle cx="150.2" cy="250.3" r="1.75"/><circle cx="99.4" cy="288.5" r="1.75"/><circle cx="118.1" cy="282.8" r="1.75"/><circle cx="84.1" cy="250.9" r="1.75"/><circle cx="109.6" cy="266.3" r="1.75"/><circle cx="102.0" cy="286.3" r="1.75"/><circle cx="88.0" cy="236.6" r="1.75"/><circle cx="83.7" cy="274.3" r="1.75"/><circle cx="148.2" cy="271.7" r="1.75"/><circle cx="106.2" cy="252.8" r="1.75"/><circle cx="123.7" cy="267.6" r="1.75"/><circle cx="109.4" cy="247.2" r="1.75"/><circle cx="55.3" cy="265.2" r="1.75"/><circle cx="122.4" cy="280.5" r="1.75"/><circle cx="153.1" cy="265.2" r="1.75"/><circle cx="151.5" cy="246.6" r="1.75"/><circle cx="90.2" cy="278.9" r="1.75"/><circle cx="140.2" cy="259.3" r="1.75"/><circle cx="124.8" cy="262.6" r="1.75"/><circle cx="115.3" cy="255.8" r="1.75"/><circle cx="118.2" cy="274.8" r="1.75"/><circle cx="127.8" cy="281.4" r="1.75"/><circle cx="51.8" cy="257.5" r="1.75"/><circle cx="101.4" cy="246.0" r="1.75"/><circle cx="139.8" cy="268.8" r="1.75"/><circle cx="146.5" cy="285.4" r="1.75"/><circle cx="142.8" cy="248.8" r="1.75"/><circle cx="82.3" cy="265.6" r="1.75"/><circle cx="86.2" cy="256.4" r="1.75"/><circle cx="98.8" cy="286.8" r="1.75"/><circle cx="124.6" cy="250.0" r="1.75"/><circle cx="100.3" cy="274.2" r="1.75"/><circle cx="122.0" cy="243.3" r="1.75"/><circle cx="151.4" cy="280.4" r="1.75"/><circle cx="115.7" cy="289.8" r="1.75"/><circle cx="139.0" cy="276.9" r="1.75"/><circle cx="137.9" cy="253.9" r="1.75"/><circle cx="151.9" cy="254.1" r="1.75"/><circle cx="131.2" cy="246.0" r="1.75"/><circle cx="149.1" cy="282.2" r="1.75"/><circle cx="150.1" cy="261.8" r="1.75"/><circle cx="139.9" cy="287.8" r="1.75"/><circle cx="149.6" cy="281.5" r="1.75"/><circle cx="113.2" cy="288.7" r="1.75"/><circle cx="140.4" cy="259.7" r="1.75"/><circle cx="124.1" cy="242.9" r="1.75"/><circle cx="63.4" cy="261.3" r="1.75"/><circle cx="116.7" cy="261.2" r="1.75"/><circle cx="135.5" cy="242.4" r="1.75"/><circle cx="107.0" cy="276.4" r="1.75"/><circle cx="128.3" cy="263.9" r="1.75"/><circle cx="129.2" cy="248.5" r="1.75"/><circle cx="121.3" cy="282.9" r="1.75"/><circle cx="130.6" cy="255.2" r="1.75"/><circle cx="138.5" cy="287.7" r="1.75"/><circle cx="136.5" cy="274.3" r="1.75"/><circle cx="114.2" cy="283.3" r="1.75"/><circle cx="139.8" cy="271.0" r="1.75"/><circle cx="69.5" cy="282.5" r="1.75"/><circle cx="115.5" cy="288.2" r="1.75"/><circle cx="110.6" cy="270.3" r="1.75"/><circle cx="115.7" cy="273.2" r="1.75"/><circle cx="43.3" cy="253.2" r="1.75"/><circle cx="85.0" cy="289.6" r="1.75"/><circle cx="157.5" cy="259.3" r="1.75"/><circle cx="156.7" cy="288.8" r="1.75"/><circle cx="152.2" cy="268.0" r="1.75"/><circle cx="144.6" cy="289.5" r="1.75"/><circle cx="126.8" cy="241.9" r="1.75"/><circle cx="138.6" cy="267.9" r="1.75"/><circle cx="108.3" cy="268.5" r="1.75"/><circle cx="72.6" cy="287.9" r="1.75"/><circle cx="137.3" cy="249.9" r="1.75"/><circle cx="58.9" cy="279.6" r="1.75"/><circle cx="122.3" cy="268.9" r="1.75"/><circle cx="110.9" cy="254.0" r="1.75"/><circle cx="93.9" cy="249.6" r="1.75"/><circle cx="110.6" cy="273.5" r="1.75"/><circle cx="131.3" cy="288.2" r="1.75"/><circle cx="158.7" cy="236.9" r="1.75"/><circle cx="74.0" cy="280.1" r="1.75"/><circle cx="144.6" cy="288.8" r="1.75"/><circle cx="91.7" cy="260.2" r="1.75"/><circle cx="105.3" cy="244.3" r="1.75"/><circle cx="133.5" cy="287.3" r="1.75"/><circle cx="90.5" cy="288.7" r="1.75"/><circle cx="139.3" cy="256.8" r="1.75"/><circle cx="152.8" cy="263.0" r="1.75"/><circle cx="112.8" cy="279.9" r="1.75"/><circle cx="134.3" cy="279.6" r="1.75"/><circle cx="149.7" cy="251.2" r="1.75"/><circle cx="149.9" cy="289.4" r="1.75"/><circle cx="154.8" cy="280.8" r="1.75"/><circle cx="69.4" cy="274.7" r="1.75"/><circle cx="111.8" cy="250.7" r="1.75"/><circle cx="52.6" cy="277.2" r="1.75"/><circle cx="153.1" cy="288.5" r="1.75"/><circle cx="139.3" cy="252.7" r="1.75"/><circle cx="126.7" cy="256.1" r="1.75"/><circle cx="126.7" cy="285.8" r="1.75"/><circle cx="155.5" cy="253.6" r="1.75"/><circle cx="134.0" cy="260.0" r="1.75"/><circle cx="141.3" cy="274.4" r="1.75"/><circle cx="153.4" cy="262.7" r="1.75"/><circle cx="147.0" cy="267.0" r="1.75"/><circle cx="155.2" cy="249.5" r="1.75"/><circle cx="139.4" cy="239.2" r="1.75"/><circle cx="132.5" cy="275.8" r="1.75"/><circle cx="143.4" cy="287.2" r="1.75"/><circle cx="121.2" cy="274.6" r="1.75"/><circle cx="57.1" cy="261.4" r="1.75"/><circle cx="126.2" cy="280.0" r="1.75"/><circle cx="94.5" cy="284.6" r="1.75"/><circle cx="156.5" cy="282.1" r="1.75"/><circle cx="111.2" cy="246.0" r="1.75"/><circle cx="82.0" cy="254.5" r="1.75"/><circle cx="155.7" cy="285.8" r="1.75"/><circle cx="54.9" cy="277.9" r="1.75"/><circle cx="153.8" cy="279.3" r="1.75"/><circle cx="81.4" cy="286.4" r="1.75"/><circle cx="138.6" cy="246.6" r="1.75"/><circle cx="121.3" cy="278.4" r="1.75"/><circle cx="81.8" cy="273.7" r="1.75"/><circle cx="112.4" cy="287.9" r="1.75"/><circle cx="146.8" cy="289.0" r="1.75"/><circle cx="148.8" cy="255.7" r="1.75"/><circle cx="143.1" cy="259.7" r="1.75"/><circle cx="132.9" cy="267.6" r="1.75"/><circle cx="127.1" cy="283.7" r="1.75"/><circle cx="122.1" cy="275.8" r="1.75"/><circle cx="149.0" cy="266.8" r="1.75"/><circle cx="148.5" cy="281.9" r="1.75"/><circle cx="84.7" cy="262.8" r="1.75"/><circle cx="123.7" cy="246.5" r="1.75"/><circle cx="149.6" cy="283.6" r="1.75"/><circle cx="120.5" cy="240.6" r="1.75"/><circle cx="86.1" cy="266.8" r="1.75"/><circle cx="110.4" cy="237.5" r="1.75"/><circle cx="150.9" cy="238.1" r="1.75"/><circle cx="139.1" cy="288.1" r="1.75"/><circle cx="155.5" cy="256.5" r="1.75"/><circle cx="141.3" cy="280.7" r="1.75"/><circle cx="151.7" cy="260.2" r="1.75"/><circle cx="157.5" cy="243.3" r="1.75"/><circle cx="134.2" cy="269.5" r="1.75"/><circle cx="145.8" cy="258.2" r="1.75"/><circle cx="156.0" cy="257.3" r="1.75"/><circle cx="125.0" cy="283.2" r="1.75"/><circle cx="100.6" cy="271.3" r="1.75"/><circle cx="146.5" cy="278.3" r="1.75"/><circle cx="88.3" cy="268.2" r="1.75"/><circle cx="149.9" cy="251.5" r="1.75"/><circle cx="97.5" cy="285.0" r="1.75"/><circle cx="160.2" cy="264.2" r="1.75"/><circle cx="111.0" cy="267.0" r="1.75"/><circle cx="119.3" cy="273.5" r="1.75"/><circle cx="108.1" cy="246.4" r="1.75"/><circle cx="119.0" cy="275.3" r="1.75"/><circle cx="112.6" cy="249.1" r="1.75"/><circle cx="139.1" cy="287.9" r="1.75"/><circle cx="155.1" cy="270.6" r="1.75"/><circle cx="92.0" cy="286.5" r="1.75"/><circle cx="145.5" cy="246.1" r="1.75"/><circle cx="63.1" cy="257.5" r="1.75"/><circle cx="148.5" cy="282.1" r="1.75"/><circle cx="127.5" cy="274.2" r="1.75"/><circle cx="149.8" cy="285.8" r="1.75"/><circle cx="113.1" cy="243.6" r="1.75"/><circle cx="156.3" cy="243.1" r="1.75"/><circle cx="131.3" cy="243.1" r="1.75"/><circle cx="139.8" cy="261.1" r="1.75"/><circle cx="127.3" cy="279.6" r="1.75"/><circle cx="155.6" cy="269.7" r="1.75"/><circle cx="121.4" cy="257.5" r="1.75"/><circle cx="131.3" cy="271.3" r="1.75"/><circle cx="137.3" cy="265.8" r="1.75"/><circle cx="154.3" cy="287.3" r="1.75"/><circle cx="119.8" cy="281.0" r="1.75"/><circle cx="91.3" cy="248.0" r="1.75"/><circle cx="83.8" cy="260.6" r="1.75"/><circle cx="160.4" cy="249.3" r="1.75"/><circle cx="131.9" cy="256.6" r="1.75"/><circle cx="134.2" cy="257.9" r="1.75"/><circle cx="109.1" cy="280.5" r="1.75"/><circle cx="158.3" cy="254.8" r="1.75"/><circle cx="75.2" cy="285.8" r="1.75"/><circle cx="146.5" cy="289.5" r="1.75"/><circle cx="153.8" cy="275.9" r="1.75"/><circle cx="128.8" cy="284.6" r="1.75"/><circle cx="121.7" cy="255.7" r="1.75"/><circle cx="153.2" cy="278.6" r="1.75"/><circle cx="91.3" cy="289.1" r="1.75"/><circle cx="116.9" cy="250.6" r="1.75"/><circle cx="135.9" cy="240.3" r="1.75"/><circle cx="118.5" cy="254.7" r="1.75"/><circle cx="113.7" cy="239.0" r="1.75"/><circle cx="102.8" cy="250.2" r="1.75"/><circle cx="115.7" cy="240.7" r="1.75"/><circle cx="123.1" cy="257.0" r="1.75"/><circle cx="79.8" cy="250.0" r="1.75"/><circle cx="108.2" cy="249.4" r="1.75"/><circle cx="90.9" cy="286.2" r="1.75"/><circle cx="142.2" cy="276.9" r="1.75"/><circle cx="131.5" cy="260.4" r="1.75"/><circle cx="115.1" cy="276.8" r="1.75"/><circle cx="144.1" cy="244.4" r="1.75"/><circle cx="114.5" cy="288.5" r="1.75"/><circle cx="131.3" cy="276.5" r="1.75"/><circle cx="76.9" cy="275.7" r="1.75"/><circle cx="157.0" cy="247.0" r="1.75"/><circle cx="127.7" cy="289.6" r="1.75"/><circle cx="157.6" cy="247.3" r="1.75"/><circle cx="133.0" cy="237.8" r="1.75"/><circle cx="136.2" cy="288.6" r="1.75"/><circle cx="86.4" cy="239.2" r="1.75"/><circle cx="90.0" cy="257.8" r="1.75"/><circle cx="138.7" cy="285.6" r="1.75"/><circle cx="140.6" cy="247.1" r="1.75"/><circle cx="156.2" cy="286.1" r="1.75"/><circle cx="55.8" cy="273.6" r="1.75"/><circle cx="76.2" cy="280.9" r="1.75"/><circle cx="144.7" cy="273.6" r="1.75"/><circle cx="160.5" cy="285.0" r="1.75"/><circle cx="108.3" cy="273.8" r="1.75"/><circle cx="158.6" cy="263.2" r="1.75"/><circle cx="121.7" cy="269.2" r="1.75"/><circle cx="154.8" cy="243.0" r="1.75"/><circle cx="123.5" cy="245.8" r="1.75"/><circle cx="155.7" cy="286.3" r="1.75"/><circle cx="138.8" cy="253.2" r="1.75"/><circle cx="132.4" cy="249.3" r="1.75"/><circle cx="87.7" cy="242.0" r="1.75"/><circle cx="101.2" cy="273.1" r="1.75"/><circle cx="148.7" cy="241.1" r="1.75"/><circle cx="110.4" cy="263.9" r="1.75"/><circle cx="122.0" cy="269.0" r="1.75"/><circle cx="135.0" cy="266.7" r="1.75"/><circle cx="141.8" cy="272.1" r="1.75"/><circle cx="114.1" cy="256.0" r="1.75"/><circle cx="69.8" cy="265.4" r="1.75"/><circle cx="141.0" cy="244.0" r="1.75"/><circle cx="155.9" cy="268.9" r="1.75"/><circle cx="109.1" cy="284.6" r="1.75"/><circle cx="95.6" cy="272.0" r="1.75"/><circle cx="102.3" cy="268.8" r="1.75"/><circle cx="136.6" cy="248.2" r="1.75"/><circle cx="127.2" cy="262.0" r="1.75"/><circle cx="155.6" cy="277.8" r="1.75"/><circle cx="126.1" cy="265.1" r="1.75"/><circle cx="100.0" cy="249.5" r="1.75"/><circle cx="117.6" cy="254.8" r="1.75"/><circle cx="143.3" cy="259.0" r="1.75"/><circle cx="112.1" cy="280.1" r="1.75"/><circle cx="132.1" cy="263.1" r="1.75"/><circle cx="147.3" cy="280.6" r="1.75"/><circle cx="146.1" cy="288.1" r="1.75"/><circle cx="134.1" cy="251.7" r="1.75"/><circle cx="107.0" cy="258.4" r="1.75"/><circle cx="62.8" cy="236.7" r="1.75"/><circle cx="137.0" cy="252.4" r="1.75"/><circle cx="153.2" cy="280.2" r="1.75"/><circle cx="107.7" cy="289.3" r="1.75"/><circle cx="149.7" cy="271.1" r="1.75"/><circle cx="50.9" cy="275.9" r="1.75"/><circle cx="155.3" cy="266.3" r="1.75"/><circle cx="125.3" cy="274.1" r="1.75"/><circle cx="125.9" cy="288.7" r="1.75"/><circle cx="118.9" cy="288.0" r="1.75"/><circle cx="88.8" cy="274.9" r="1.75"/><circle cx="116.8" cy="262.0" r="1.75"/><circle cx="141.6" cy="283.7" r="1.75"/><circle cx="145.0" cy="283.6" r="1.75"/><circle cx="144.6" cy="281.2" r="1.75"/><circle cx="139.5" cy="252.8" r="1.75"/><circle cx="124.2" cy="251.3" r="1.75"/><circle cx="54.2" cy="267.9" r="1.75"/><circle cx="149.9" cy="288.5" r="1.75"/><circle cx="127.3" cy="239.9" r="1.75"/><circle cx="105.4" cy="244.6" r="1.75"/><circle cx="146.5" cy="277.8" r="1.75"/><circle cx="118.1" cy="289.7" r="1.75"/><circle cx="150.3" cy="267.7" r="1.75"/><circle cx="139.7" cy="284.1" r="1.75"/><circle cx="121.6" cy="273.8" r="1.75"/><circle cx="146.0" cy="272.7" r="1.75"/><circle cx="148.8" cy="277.3" r="1.75"/><circle cx="118.6" cy="241.7" r="1.75"/><circle cx="126.1" cy="273.3" r="1.75"/><circle cx="126.9" cy="286.4" r="1.75"/><circle cx="156.0" cy="262.9" r="1.75"/><circle cx="149.1" cy="243.4" r="1.75"/><circle cx="103.3" cy="281.2" r="1.75"/><circle cx="145.0" cy="273.9" r="1.75"/><circle cx="74.2" cy="256.8" r="1.75"/><circle cx="154.2" cy="277.3" r="1.75"/><circle cx="147.9" cy="280.1" r="1.75"/><circle cx="97.3" cy="238.6" r="1.75"/><circle cx="139.4" cy="247.6" r="1.75"/><circle cx="133.8" cy="255.2" r="1.75"/><circle cx="148.3" cy="258.0" r="1.75"/><circle cx="150.4" cy="240.4" r="1.75"/><circle cx="51.7" cy="288.4" r="1.75"/><circle cx="96.1" cy="270.5" r="1.75"/><circle cx="129.4" cy="260.0" r="1.75"/><circle cx="154.2" cy="285.7" r="1.75"/><circle cx="144.8" cy="236.3" r="1.75"/><circle cx="155.1" cy="256.2" r="1.75"/><circle cx="102.9" cy="251.7" r="1.75"/><circle cx="147.8" cy="238.2" r="1.75"/><circle cx="81.9" cy="262.7" r="1.75"/><circle cx="120.8" cy="241.8" r="1.75"/><circle cx="150.8" cy="274.2" r="1.75"/><circle cx="131.1" cy="241.2" r="1.75"/><circle cx="118.6" cy="266.8" r="1.75"/><circle cx="127.2" cy="250.6" r="1.75"/><circle cx="114.6" cy="279.3" r="1.75"/><circle cx="122.2" cy="268.5" r="1.75"/><circle cx="98.7" cy="264.0" r="1.75"/><circle cx="73.1" cy="266.3" r="1.75"/><circle cx="141.0" cy="241.1" r="1.75"/><circle cx="112.1" cy="269.6" r="1.75"/><circle cx="85.6" cy="244.2" r="1.75"/><circle cx="122.2" cy="286.4" r="1.75"/><circle cx="137.7" cy="282.2" r="1.75"/><circle cx="96.5" cy="283.7" r="1.75"/><circle cx="137.3" cy="283.4" r="1.75"/><circle cx="140.6" cy="262.2" r="1.75"/><circle cx="159.2" cy="286.8" r="1.75"/><circle cx="136.0" cy="257.0" r="1.75"/><circle cx="116.6" cy="244.5" r="1.75"/><circle cx="122.1" cy="288.4" r="1.75"/><circle cx="105.7" cy="280.5" r="1.75"/><circle cx="135.7" cy="270.5" r="1.75"/><circle cx="73.4" cy="289.6" r="1.75"/><circle cx="145.9" cy="257.0" r="1.75"/><circle cx="116.5" cy="269.7" r="1.75"/><circle cx="129.5" cy="284.6" r="1.75"/><circle cx="135.3" cy="288.0" r="1.75"/><circle cx="120.0" cy="243.7" r="1.75"/><circle cx="131.9" cy="261.5" r="1.75"/><circle cx="112.2" cy="275.5" r="1.75"/><circle cx="96.2" cy="243.9" r="1.75"/><circle cx="107.4" cy="286.2" r="1.75"/><circle cx="265.3" cy="283.9" r="1.75"/><circle cx="243.3" cy="281.5" r="1.75"/><circle cx="294.3" cy="292.1" r="1.75"/><circle cx="275.9" cy="290.2" r="1.75"/><circle cx="263.2" cy="286.9" r="1.75"/><circle cx="246.3" cy="288.3" r="1.75"/><circle cx="344.1" cy="292.4" r="1.75"/><circle cx="248.9" cy="283.1" r="1.75"/><circle cx="259.2" cy="288.0" r="1.75"/><circle cx="248.9" cy="282.8" r="1.75"/><circle cx="254.6" cy="281.5" r="1.75"/><circle cx="255.0" cy="290.2" r="1.75"/><circle cx="268.5" cy="291.7" r="1.75"/><circle cx="241.7" cy="290.2" r="1.75"/><circle cx="239.5" cy="292.0" r="1.75"/><circle cx="256.4" cy="288.6" r="1.75"/><circle cx="242.5" cy="288.7" r="1.75"/><circle cx="283.3" cy="282.6" r="1.75"/><circle cx="283.5" cy="280.4" r="1.75"/><circle cx="256.2" cy="288.1" r="1.75"/><circle cx="272.3" cy="289.6" r="1.75"/><circle cx="260.2" cy="287.5" r="1.75"/><circle cx="264.5" cy="289.1" r="1.75"/><circle cx="243.4" cy="292.1" r="1.75"/><circle cx="242.6" cy="287.2" r="1.75"/><circle cx="243.0" cy="285.7" r="1.75"/><circle cx="251.4" cy="290.3" r="1.75"/><circle cx="280.5" cy="288.3" r="1.75"/><circle cx="254.9" cy="284.2" r="1.75"/><circle cx="240.7" cy="284.5" r="1.75"/><circle cx="272.3" cy="291.6" r="1.75"/><circle cx="303.6" cy="287.5" r="1.75"/><circle cx="240.9" cy="283.7" r="1.75"/><circle cx="274.0" cy="291.5" r="1.75"/><circle cx="240.4" cy="291.3" r="1.75"/><circle cx="278.0" cy="287.4" r="1.75"/><circle cx="309.2" cy="291.3" r="1.75"/><circle cx="262.4" cy="285.7" r="1.75"/><circle cx="245.2" cy="290.7" r="1.75"/><circle cx="290.1" cy="289.9" r="1.75"/><circle cx="251.9" cy="291.3" r="1.75"/><circle cx="250.0" cy="289.3" r="1.75"/><circle cx="263.0" cy="283.9" r="1.75"/><circle cx="260.8" cy="287.0" r="1.75"/><circle cx="255.2" cy="287.5" r="1.75"/><circle cx="268.9" cy="281.9" r="1.75"/><circle cx="271.8" cy="282.4" r="1.75"/><circle cx="256.8" cy="283.1" r="1.75"/><circle cx="242.9" cy="277.5" r="1.75"/><circle cx="241.5" cy="286.8" r="1.75"/><circle cx="253.1" cy="277.4" r="1.75"/><circle cx="250.3" cy="292.3" r="1.75"/><circle cx="299.4" cy="287.4" r="1.75"/><circle cx="247.4" cy="283.3" r="1.75"/><circle cx="249.9" cy="288.2" r="1.75"/><circle cx="281.8" cy="287.6" r="1.75"/><circle cx="265.3" cy="282.5" r="1.75"/><circle cx="246.3" cy="290.3" r="1.75"/><circle cx="292.3" cy="287.8" r="1.75"/><circle cx="268.2" cy="291.5" r="1.75"/><circle cx="240.0" cy="291.4" r="1.75"/><circle cx="269.4" cy="284.2" r="1.75"/><circle cx="294.6" cy="291.0" r="1.75"/><circle cx="244.5" cy="290.3" r="1.75"/><circle cx="253.3" cy="288.1" r="1.75"/><circle cx="265.0" cy="290.6" r="1.75"/><circle cx="295.4" cy="288.1" r="1.75"/><circle cx="247.3" cy="291.8" r="1.75"/><circle cx="243.3" cy="285.0" r="1.75"/><circle cx="241.7" cy="287.3" r="1.75"/><circle cx="240.1" cy="292.0" r="1.75"/><circle cx="251.1" cy="290.2" r="1.75"/><circle cx="242.7" cy="289.7" r="1.75"/><circle cx="264.2" cy="285.0" r="1.75"/><circle cx="253.1" cy="289.9" r="1.75"/><circle cx="262.5" cy="286.5" r="1.75"/><circle cx="306.1" cy="279.5" r="1.75"/><circle cx="244.8" cy="286.9" r="1.75"/><circle cx="242.7" cy="285.5" r="1.75"/><circle cx="261.7" cy="288.0" r="1.75"/><circle cx="268.2" cy="290.0" r="1.75"/><circle cx="249.4" cy="290.6" r="1.75"/><circle cx="282.7" cy="291.4" r="1.75"/><circle cx="259.5" cy="283.8" r="1.75"/><circle cx="264.9" cy="284.6" r="1.75"/><circle cx="240.1" cy="285.1" r="1.75"/><circle cx="242.0" cy="290.7" r="1.75"/><circle cx="243.4" cy="290.5" r="1.75"/><circle cx="251.5" cy="283.9" r="1.75"/><circle cx="270.7" cy="288.2" r="1.75"/><circle cx="266.3" cy="291.6" r="1.75"/><circle cx="315.9" cy="289.6" r="1.75"/><circle cx="279.5" cy="276.2" r="1.75"/><circle cx="255.3" cy="283.7" r="1.75"/><circle cx="244.5" cy="285.2" r="1.75"/><circle cx="334.7" cy="289.8" r="1.75"/><circle cx="290.6" cy="284.7" r="1.75"/><circle cx="239.8" cy="284.3" r="1.75"/><circle cx="239.7" cy="290.5" r="1.75"/><circle cx="262.8" cy="292.2" r="1.75"/><circle cx="266.4" cy="290.0" r="1.75"/><circle cx="278.6" cy="291.8" r="1.75"/><circle cx="242.5" cy="276.6" r="1.75"/><circle cx="252.8" cy="290.4" r="1.75"/><circle cx="289.4" cy="290.7" r="1.75"/><circle cx="240.8" cy="291.2" r="1.75"/><circle cx="242.7" cy="290.6" r="1.75"/><circle cx="310.5" cy="284.6" r="1.75"/><circle cx="270.9" cy="280.8" r="1.75"/><circle cx="245.9" cy="288.7" r="1.75"/><circle cx="242.6" cy="291.1" r="1.75"/><circle cx="250.0" cy="287.3" r="1.75"/><circle cx="263.7" cy="285.9" r="1.75"/><circle cx="307.1" cy="286.3" r="1.75"/><circle cx="266.2" cy="289.8" r="1.75"/><circle cx="242.2" cy="291.6" r="1.75"/><circle cx="277.7" cy="281.7" r="1.75"/><circle cx="255.9" cy="288.8" r="1.75"/><circle cx="258.4" cy="290.3" r="1.75"/><circle cx="245.3" cy="291.5" r="1.75"/><circle cx="245.0" cy="283.4" r="1.75"/><circle cx="241.8" cy="290.0" r="1.75"/><circle cx="271.2" cy="292.2" r="1.75"/><circle cx="285.8" cy="287.6" r="1.75"/><circle cx="247.5" cy="281.6" r="1.75"/><circle cx="273.4" cy="288.2" r="1.75"/><circle cx="262.2" cy="289.3" r="1.75"/><circle cx="273.5" cy="291.3" r="1.75"/><circle cx="259.9" cy="288.2" r="1.75"/><circle cx="267.2" cy="286.6" r="1.75"/><circle cx="240.7" cy="287.0" r="1.75"/><circle cx="259.8" cy="291.6" r="1.75"/><circle cx="278.9" cy="287.9" r="1.75"/><circle cx="262.4" cy="283.0" r="1.75"/><circle cx="249.1" cy="287.7" r="1.75"/><circle cx="251.0" cy="290.2" r="1.75"/><circle cx="247.0" cy="285.1" r="1.75"/><circle cx="301.5" cy="288.9" r="1.75"/><circle cx="246.6" cy="290.1" r="1.75"/><circle cx="265.9" cy="291.1" r="1.75"/><circle cx="251.0" cy="291.4" r="1.75"/><circle cx="257.7" cy="286.0" r="1.75"/><circle cx="259.4" cy="289.3" r="1.75"/><circle cx="251.9" cy="291.4" r="1.75"/><circle cx="257.6" cy="292.1" r="1.75"/><circle cx="299.4" cy="292.4" r="1.75"/><circle cx="253.9" cy="285.6" r="1.75"/><circle cx="252.8" cy="288.6" r="1.75"/><circle cx="243.1" cy="287.5" r="1.75"/><circle cx="248.3" cy="285.9" r="1.75"/><circle cx="244.7" cy="283.3" r="1.75"/><circle cx="250.3" cy="290.5" r="1.75"/><circle cx="240.3" cy="282.3" r="1.75"/><circle cx="252.3" cy="290.3" r="1.75"/><circle cx="272.1" cy="290.3" r="1.75"/><circle cx="240.4" cy="283.7" r="1.75"/><circle cx="246.9" cy="291.3" r="1.75"/><circle cx="275.3" cy="289.3" r="1.75"/><circle cx="259.1" cy="292.2" r="1.75"/><circle cx="262.9" cy="289.6" r="1.75"/><circle cx="240.7" cy="290.7" r="1.75"/><circle cx="261.8" cy="284.9" r="1.75"/><circle cx="259.6" cy="292.0" r="1.75"/><circle cx="258.7" cy="291.8" r="1.75"/><circle cx="272.3" cy="292.4" r="1.75"/><circle cx="254.9" cy="288.3" r="1.75"/><circle cx="241.4" cy="290.9" r="1.75"/><circle cx="304.1" cy="290.5" r="1.75"/><circle cx="250.1" cy="281.4" r="1.75"/><circle cx="269.6" cy="285.7" r="1.75"/><circle cx="242.8" cy="291.7" r="1.75"/><circle cx="261.0" cy="286.2" r="1.75"/><circle cx="241.3" cy="289.4" r="1.75"/><circle cx="241.8" cy="290.2" r="1.75"/><circle cx="243.7" cy="287.2" r="1.75"/><circle cx="249.3" cy="277.0" r="1.75"/><circle cx="244.7" cy="290.7" r="1.75"/><circle cx="253.2" cy="291.6" r="1.75"/><circle cx="240.5" cy="290.1" r="1.75"/><circle cx="239.9" cy="292.1" r="1.75"/><circle cx="251.8" cy="289.9" r="1.75"/><circle cx="281.7" cy="285.4" r="1.75"/><circle cx="261.8" cy="285.9" r="1.75"/><circle cx="256.0" cy="291.7" r="1.75"/><circle cx="291.5" cy="284.2" r="1.75"/><circle cx="245.4" cy="289.2" r="1.75"/><circle cx="270.2" cy="273.6" r="1.75"/><circle cx="240.7" cy="284.9" r="1.75"/><circle cx="286.5" cy="254.8" r="1.75"/><circle cx="240.9" cy="253.8" r="1.75"/><circle cx="246.1" cy="288.9" r="1.75"/><circle cx="323.8" cy="265.7" r="1.75"/><circle cx="251.9" cy="278.5" r="1.75"/><circle cx="249.9" cy="254.5" r="1.75"/><circle cx="295.0" cy="275.6" r="1.75"/><circle cx="348.7" cy="269.7" r="1.75"/><circle cx="307.7" cy="280.8" r="1.75"/><circle cx="248.9" cy="268.2" r="1.75"/><circle cx="269.6" cy="251.6" r="1.75"/><circle cx="254.3" cy="282.1" r="1.75"/><circle cx="291.5" cy="252.7" r="1.75"/><circle cx="295.5" cy="290.3" r="1.75"/><circle cx="254.1" cy="267.2" r="1.75"/><circle cx="267.5" cy="272.1" r="1.75"/><circle cx="271.0" cy="279.4" r="1.75"/><circle cx="270.3" cy="254.9" r="1.75"/><circle cx="278.8" cy="288.5" r="1.75"/><circle cx="250.9" cy="285.2" r="1.75"/><circle cx="289.6" cy="260.2" r="1.75"/><circle cx="248.0" cy="290.5" r="1.75"/><circle cx="265.1" cy="284.5" r="1.75"/><circle cx="249.3" cy="278.8" r="1.75"/><circle cx="254.2" cy="264.8" r="1.75"/><circle cx="260.4" cy="253.7" r="1.75"/><circle cx="253.0" cy="285.0" r="1.75"/><circle cx="247.6" cy="290.4" r="1.75"/><circle cx="261.3" cy="264.5" r="1.75"/><circle cx="249.7" cy="256.0" r="1.75"/><circle cx="266.2" cy="290.4" r="1.75"/><circle cx="243.9" cy="270.6" r="1.75"/><circle cx="249.7" cy="271.5" r="1.75"/><circle cx="246.9" cy="273.2" r="1.75"/><circle cx="259.6" cy="270.0" r="1.75"/><circle cx="276.0" cy="283.9" r="1.75"/><circle cx="266.2" cy="256.8" r="1.75"/><circle cx="243.6" cy="285.8" r="1.75"/><circle cx="239.9" cy="254.1" r="1.75"/><circle cx="255.7" cy="253.7" r="1.75"/><circle cx="317.5" cy="260.1" r="1.75"/><circle cx="298.8" cy="280.1" r="1.75"/><circle cx="274.2" cy="254.0" r="1.75"/><circle cx="277.0" cy="285.9" r="1.75"/><circle cx="264.9" cy="275.9" r="1.75"/><circle cx="247.3" cy="275.4" r="1.75"/><circle cx="273.6" cy="288.0" r="1.75"/><circle cx="250.1" cy="251.8" r="1.75"/><circle cx="251.7" cy="286.9" r="1.75"/><circle cx="343.3" cy="276.4" r="1.75"/><circle cx="250.0" cy="289.3" r="1.75"/><circle cx="350.4" cy="283.9" r="1.75"/><circle cx="244.6" cy="260.1" r="1.75"/><circle cx="241.5" cy="267.6" r="1.75"/><circle cx="257.8" cy="280.9" r="1.75"/><circle cx="254.8" cy="269.0" r="1.75"/><circle cx="263.9" cy="287.2" r="1.75"/><circle cx="252.2" cy="268.5" r="1.75"/><circle cx="293.0" cy="257.0" r="1.75"/><circle cx="273.0" cy="290.4" r="1.75"/><circle cx="280.2" cy="283.2" r="1.75"/><circle cx="280.6" cy="284.6" r="1.75"/><circle cx="251.8" cy="289.2" r="1.75"/><circle cx="245.7" cy="255.7" r="1.75"/><circle cx="250.6" cy="267.1" r="1.75"/><circle cx="270.8" cy="270.5" r="1.75"/><circle cx="259.4" cy="270.7" r="1.75"/><circle cx="281.5" cy="267.9" r="1.75"/><circle cx="336.0" cy="283.7" r="1.75"/><circle cx="283.4" cy="286.3" r="1.75"/><circle cx="294.0" cy="289.4" r="1.75"/><circle cx="298.1" cy="286.4" r="1.75"/><circle cx="259.2" cy="261.8" r="1.75"/><circle cx="247.8" cy="282.4" r="1.75"/><circle cx="307.0" cy="280.1" r="1.75"/><circle cx="268.6" cy="264.7" r="1.75"/><circle cx="240.8" cy="252.8" r="1.75"/><circle cx="251.6" cy="288.9" r="1.75"/><circle cx="244.8" cy="271.8" r="1.75"/><circle cx="278.4" cy="278.9" r="1.75"/><circle cx="241.1" cy="286.9" r="1.75"/><circle cx="262.8" cy="281.8" r="1.75"/><circle cx="282.1" cy="262.5" r="1.75"/><circle cx="327.3" cy="284.3" r="1.75"/><circle cx="276.2" cy="273.0" r="1.75"/><circle cx="288.0" cy="277.4" r="1.75"/><circle cx="265.3" cy="290.4" r="1.75"/><circle cx="280.7" cy="258.6" r="1.75"/><circle cx="265.7" cy="258.5" r="1.75"/><circle cx="263.1" cy="259.9" r="1.75"/><circle cx="272.7" cy="278.2" r="1.75"/><circle cx="279.8" cy="278.5" r="1.75"/><circle cx="260.4" cy="267.9" r="1.75"/><circle cx="253.1" cy="251.8" r="1.75"/><circle cx="276.4" cy="275.6" r="1.75"/><circle cx="254.5" cy="283.3" r="1.75"/><circle cx="260.5" cy="276.6" r="1.75"/><circle cx="272.8" cy="272.5" r="1.75"/><circle cx="281.7" cy="269.9" r="1.75"/><circle cx="263.4" cy="254.4" r="1.75"/><circle cx="255.3" cy="272.2" r="1.75"/><circle cx="262.1" cy="260.5" r="1.75"/><circle cx="252.6" cy="276.7" r="1.75"/><circle cx="279.8" cy="277.5" r="1.75"/><circle cx="245.0" cy="231.0" r="1.75"/><circle cx="257.0" cy="244.0" r="1.75"/><circle cx="315.0" cy="245.0" r="1.75"/><circle cx="336.6" cy="241.0" r="1.75"/><circle cx="326.0" cy="265.0" r="1.75"/><circle cx="337.0" cy="268.7" r="1.75"/><circle cx="320.7" cy="273.5" r="1.75"/><circle cx="334.0" cy="276.0" r="1.75"/><circle cx="338.0" cy="285.0" r="1.75"/><circle cx="350.0" cy="281.6" r="1.75"/></g><g fill="#4b4b4b" fill-opacity="0.6"><circle cx="231.9" cy="277.8" r="1.75"/><circle cx="183.4" cy="273.1" r="1.75"/><circle cx="184.8" cy="271.5" r="1.75"/><circle cx="203.9" cy="291.4" r="1.75"/><circle cx="170.0" cy="268.6" r="1.75"/><circle cx="174.1" cy="267.2" r="1.75"/><circle cx="201.5" cy="292.5" r="1.75"/><circle cx="211.2" cy="277.3" r="1.75"/><circle cx="237.7" cy="268.5" r="1.75"/><circle cx="170.1" cy="270.8" r="1.75"/><circle cx="164.6" cy="262.5" r="1.75"/><circle cx="214.9" cy="277.0" r="1.75"/><circle cx="231.1" cy="280.0" r="1.75"/><circle cx="168.4" cy="268.8" r="1.75"/><circle cx="184.5" cy="271.4" r="1.75"/><circle cx="214.4" cy="281.3" r="1.75"/><circle cx="211.2" cy="278.5" r="1.75"/><circle cx="229.1" cy="275.5" r="1.75"/><circle cx="212.9" cy="278.6" r="1.75"/><circle cx="235.2" cy="275.1" r="1.75"/><circle cx="184.1" cy="274.8" r="1.75"/><circle cx="219.4" cy="279.5" r="1.75"/><circle cx="207.2" cy="283.5" r="1.75"/><circle cx="191.9" cy="284.4" r="1.75"/><circle cx="217.5" cy="276.6" r="1.75"/><circle cx="227.2" cy="277.9" r="1.75"/><circle cx="206.5" cy="280.9" r="1.75"/><circle cx="217.1" cy="276.8" r="1.75"/><circle cx="193.4" cy="285.5" r="1.75"/><circle cx="228.3" cy="272.7" r="1.75"/><circle cx="191.2" cy="282.6" r="1.75"/><circle cx="209.9" cy="280.6" r="1.75"/><circle cx="207.7" cy="280.2" r="1.75"/><circle cx="201.3" cy="292.5" r="1.75"/><circle cx="232.9" cy="275.3" r="1.75"/><circle cx="216.1" cy="274.9" r="1.75"/><circle cx="207.2" cy="280.7" r="1.75"/><circle cx="216.9" cy="279.0" r="1.75"/><circle cx="216.5" cy="278.4" r="1.75"/><circle cx="187.1" cy="274.3" r="1.75"/><circle cx="185.9" cy="270.9" r="1.75"/><circle cx="208.8" cy="280.6" r="1.75"/><circle cx="172.1" cy="271.4" r="1.75"/><circle cx="224.5" cy="275.6" r="1.75"/><circle cx="221.2" cy="277.5" r="1.75"/><circle cx="211.3" cy="277.2" r="1.75"/><circle cx="187.2" cy="274.5" r="1.75"/><circle cx="237.6" cy="276.6" r="1.75"/><circle cx="219.1" cy="278.4" r="1.75"/><circle cx="228.4" cy="275.4" r="1.75"/><circle cx="217.4" cy="278.4" r="1.75"/><circle cx="204.8" cy="292.5" r="1.75"/><circle cx="183.4" cy="272.5" r="1.75"/><circle cx="175.3" cy="271.4" r="1.75"/><circle cx="224.9" cy="272.2" r="1.75"/><circle cx="209.7" cy="280.7" r="1.75"/><circle cx="179.7" cy="272.4" r="1.75"/><circle cx="177.5" cy="267.9" r="1.75"/><circle cx="199.2" cy="292.4" r="1.75"/><circle cx="210.8" cy="277.2" r="1.75"/><circle cx="220.7" cy="281.3" r="1.75"/><circle cx="198.7" cy="290.3" r="1.75"/><circle cx="180.8" cy="270.9" r="1.75"/><circle cx="214.1" cy="276.1" r="1.75"/><circle cx="171.4" cy="270.2" r="1.75"/><circle cx="174.7" cy="271.3" r="1.75"/><circle cx="190.3" cy="280.8" r="1.75"/><circle cx="205.1" cy="289.9" r="1.75"/><circle cx="162.7" cy="263.8" r="1.75"/><circle cx="171.8" cy="268.4" r="1.75"/><circle cx="216.5" cy="281.1" r="1.75"/><circle cx="193.3" cy="286.8" r="1.75"/><circle cx="196.1" cy="292.5" r="1.75"/><circle cx="198.1" cy="292.5" r="1.75"/><circle cx="174.9" cy="270.4" r="1.75"/><circle cx="236.5" cy="275.8" r="1.75"/><circle cx="233.2" cy="271.0" r="1.75"/><circle cx="210.7" cy="280.3" r="1.75"/><circle cx="168.4" cy="268.1" r="1.75"/><circle cx="214.8" cy="280.1" r="1.75"/><circle cx="224.3" cy="279.2" r="1.75"/><circle cx="187.4" cy="277.0" r="1.75"/><circle cx="173.0" cy="274.6" r="1.75"/><circle cx="217.9" cy="280.3" r="1.75"/><circle cx="210.8" cy="273.4" r="1.75"/><circle cx="191.9" cy="284.1" r="1.75"/><circle cx="184.3" cy="271.2" r="1.75"/><circle cx="233.7" cy="279.1" r="1.75"/><circle cx="168.0" cy="267.3" r="1.75"/><circle cx="185.4" cy="272.1" r="1.75"/><circle cx="198.6" cy="292.5" r="1.75"/><circle cx="207.2" cy="283.3" r="1.75"/><circle cx="181.2" cy="273.3" r="1.75"/><circle cx="207.6" cy="280.6" r="1.75"/><circle cx="170.0" cy="266.8" r="1.75"/><circle cx="202.7" cy="289.7" r="1.75"/><circle cx="167.9" cy="269.9" r="1.75"/><circle cx="191.7" cy="287.8" r="1.75"/><circle cx="216.8" cy="278.5" r="1.75"/><circle cx="176.8" cy="272.4" r="1.75"/><circle cx="173.1" cy="269.7" r="1.75"/><circle cx="236.5" cy="272.8" r="1.75"/><circle cx="194.7" cy="290.0" r="1.75"/><circle cx="165.7" cy="260.6" r="1.75"/><circle cx="194.4" cy="287.4" r="1.75"/><circle cx="182.5" cy="277.1" r="1.75"/><circle cx="225.0" cy="275.8" r="1.75"/><circle cx="229.8" cy="276.8" r="1.75"/><circle cx="220.7" cy="277.4" r="1.75"/><circle cx="213.8" cy="281.7" r="1.75"/><circle cx="205.8" cy="289.0" r="1.75"/><circle cx="165.8" cy="264.9" r="1.75"/><circle cx="212.0" cy="278.4" r="1.75"/><circle cx="191.5" cy="281.2" r="1.75"/><circle cx="183.2" cy="270.3" r="1.75"/><circle cx="205.3" cy="287.2" r="1.75"/><circle cx="180.1" cy="269.9" r="1.75"/><circle cx="238.3" cy="274.9" r="1.75"/><circle cx="207.9" cy="276.5" r="1.75"/><circle cx="219.7" cy="277.4" r="1.75"/><circle cx="169.7" cy="266.5" r="1.75"/><circle cx="164.1" cy="265.0" r="1.75"/><circle cx="174.7" cy="275.4" r="1.75"/><circle cx="175.6" cy="277.5" r="1.75"/><circle cx="204.2" cy="292.1" r="1.75"/><circle cx="212.4" cy="279.6" r="1.75"/><circle cx="231.1" cy="277.0" r="1.75"/><circle cx="168.7" cy="265.5" r="1.75"/><circle cx="200.1" cy="292.5" r="1.75"/><circle cx="212.7" cy="282.1" r="1.75"/><circle cx="193.7" cy="286.1" r="1.75"/><circle cx="166.9" cy="265.2" r="1.75"/><circle cx="168.8" cy="268.3" r="1.75"/><circle cx="162.0" cy="264.6" r="1.75"/><circle cx="186.3" cy="277.8" r="1.75"/><circle cx="173.8" cy="272.1" r="1.75"/><circle cx="235.3" cy="277.4" r="1.75"/><circle cx="210.4" cy="277.3" r="1.75"/><circle cx="168.9" cy="265.6" r="1.75"/><circle cx="213.2" cy="279.3" r="1.75"/><circle cx="200.6" cy="291.5" r="1.75"/><circle cx="226.0" cy="277.6" r="1.75"/><circle cx="176.0" cy="270.7" r="1.75"/><circle cx="188.3" cy="273.9" r="1.75"/><circle cx="199.4" cy="291.0" r="1.75"/><circle cx="201.2" cy="290.9" r="1.75"/><circle cx="172.4" cy="268.9" r="1.75"/><circle cx="226.0" cy="279.0" r="1.75"/><circle cx="173.6" cy="271.7" r="1.75"/><circle cx="197.4" cy="291.7" r="1.75"/><circle cx="205.6" cy="286.3" r="1.75"/><circle cx="195.4" cy="286.7" r="1.75"/><circle cx="187.8" cy="271.4" r="1.75"/><circle cx="217.6" cy="280.5" r="1.75"/><circle cx="202.1" cy="292.5" r="1.75"/><circle cx="214.6" cy="282.0" r="1.75"/><circle cx="220.7" cy="279.3" r="1.75"/><circle cx="233.3" cy="280.1" r="1.75"/><circle cx="199.7" cy="289.8" r="1.75"/><circle cx="193.8" cy="285.2" r="1.75"/><circle cx="233.0" cy="278.9" r="1.75"/><circle cx="236.6" cy="274.4" r="1.75"/><circle cx="229.3" cy="275.9" r="1.75"/><circle cx="177.1" cy="268.5" r="1.75"/><circle cx="232.1" cy="274.8" r="1.75"/><circle cx="211.7" cy="277.7" r="1.75"/><circle cx="202.0" cy="292.5" r="1.75"/><circle cx="171.5" cy="268.5" r="1.75"/><circle cx="173.9" cy="271.3" r="1.75"/><circle cx="228.8" cy="278.8" r="1.75"/><circle cx="183.8" cy="276.0" r="1.75"/><circle cx="198.2" cy="290.1" r="1.75"/><circle cx="194.6" cy="290.0" r="1.75"/><circle cx="191.3" cy="283.1" r="1.75"/><circle cx="194.4" cy="286.2" r="1.75"/><circle cx="183.1" cy="273.2" r="1.75"/><circle cx="231.4" cy="274.3" r="1.75"/><circle cx="201.4" cy="292.5" r="1.75"/><circle cx="184.2" cy="271.5" r="1.75"/><circle cx="177.8" cy="275.6" r="1.75"/><circle cx="223.8" cy="281.5" r="1.75"/><circle cx="222.8" cy="280.4" r="1.75"/><circle cx="225.3" cy="277.8" r="1.75"/><circle cx="207.7" cy="282.1" r="1.75"/><circle cx="187.0" cy="278.5" r="1.75"/><circle cx="177.8" cy="269.8" r="1.75"/><circle cx="190.3" cy="283.0" r="1.75"/><circle cx="168.3" cy="267.5" r="1.75"/><circle cx="182.7" cy="272.5" r="1.75"/><circle cx="188.4" cy="278.6" r="1.75"/><circle cx="170.3" cy="268.1" r="1.75"/><circle cx="173.1" cy="269.9" r="1.75"/><circle cx="170.6" cy="269.4" r="1.75"/><circle cx="191.6" cy="280.6" r="1.75"/><circle cx="233.5" cy="277.6" r="1.75"/><circle cx="236.0" cy="277.8" r="1.75"/><circle cx="169.3" cy="267.7" r="1.75"/><circle cx="207.7" cy="282.8" r="1.75"/><circle cx="161.7" cy="262.4" r="1.75"/><circle cx="213.2" cy="278.3" r="1.75"/><circle cx="210.1" cy="279.6" r="1.75"/><circle cx="201.3" cy="291.2" r="1.75"/><circle cx="182.9" cy="271.9" r="1.75"/><circle cx="197.5" cy="292.5" r="1.75"/><circle cx="164.3" cy="265.3" r="1.75"/><circle cx="212.4" cy="277.7" r="1.75"/><circle cx="221.9" cy="276.9" r="1.75"/><circle cx="167.9" cy="268.2" r="1.75"/><circle cx="239.2" cy="276.8" r="1.75"/><circle cx="175.1" cy="271.9" r="1.75"/><circle cx="232.7" cy="275.0" r="1.75"/><circle cx="237.6" cy="279.5" r="1.75"/><circle cx="194.3" cy="291.2" r="1.75"/><circle cx="226.8" cy="279.4" r="1.75"/><circle cx="205.1" cy="292.5" r="1.75"/><circle cx="182.5" cy="274.4" r="1.75"/><circle cx="214.8" cy="276.2" r="1.75"/><circle cx="189.2" cy="281.3" r="1.75"/><circle cx="173.2" cy="271.1" r="1.75"/><circle cx="221.4" cy="280.1" r="1.75"/><circle cx="176.1" cy="271.4" r="1.75"/><circle cx="234.1" cy="274.6" r="1.75"/><circle cx="176.7" cy="269.4" r="1.75"/><circle cx="186.4" cy="274.2" r="1.75"/><circle cx="223.8" cy="275.6" r="1.75"/><circle cx="226.5" cy="277.1" r="1.75"/><circle cx="192.6" cy="285.8" r="1.75"/><circle cx="208.8" cy="276.3" r="1.75"/><circle cx="234.9" cy="277.2" r="1.75"/><circle cx="183.9" cy="272.8" r="1.75"/><circle cx="182.2" cy="267.4" r="1.75"/><circle cx="169.4" cy="266.2" r="1.75"/><circle cx="215.0" cy="279.9" r="1.75"/><circle cx="215.1" cy="277.4" r="1.75"/><circle cx="170.8" cy="270.7" r="1.75"/><circle cx="217.4" cy="278.4" r="1.75"/><circle cx="183.7" cy="276.6" r="1.75"/><circle cx="201.1" cy="292.0" r="1.75"/><circle cx="205.1" cy="292.5" r="1.75"/><circle cx="206.7" cy="283.3" r="1.75"/><circle cx="204.3" cy="291.6" r="1.75"/><circle cx="192.4" cy="282.5" r="1.75"/><circle cx="215.9" cy="272.9" r="1.75"/><circle cx="177.7" cy="276.3" r="1.75"/><circle cx="229.1" cy="280.4" r="1.75"/><circle cx="191.5" cy="285.1" r="1.75"/><circle cx="221.5" cy="279.3" r="1.75"/><circle cx="208.7" cy="277.7" r="1.75"/><circle cx="196.5" cy="292.2" r="1.75"/><circle cx="198.4" cy="292.5" r="1.75"/><circle cx="202.2" cy="292.5" r="1.75"/><circle cx="193.9" cy="288.5" r="1.75"/><circle cx="205.0" cy="292.5" r="1.75"/><circle cx="198.4" cy="292.5" r="1.75"/><circle cx="227.0" cy="281.3" r="1.75"/><circle cx="181.6" cy="273.1" r="1.75"/><circle cx="219.9" cy="276.7" r="1.75"/><circle cx="193.4" cy="285.3" r="1.75"/><circle cx="227.7" cy="280.9" r="1.75"/><circle cx="225.8" cy="276.2" r="1.75"/><circle cx="167.1" cy="264.4" r="1.75"/><circle cx="233.6" cy="275.6" r="1.75"/><circle cx="224.6" cy="280.9" r="1.75"/><circle cx="212.4" cy="281.4" r="1.75"/><circle cx="176.2" cy="272.3" r="1.75"/><circle cx="226.2" cy="280.4" r="1.75"/><circle cx="207.4" cy="284.6" r="1.75"/><circle cx="179.3" cy="270.7" r="1.75"/><circle cx="211.2" cy="275.9" r="1.75"/><circle cx="170.6" cy="267.7" r="1.75"/><circle cx="215.8" cy="275.0" r="1.75"/><circle cx="176.3" cy="270.3" r="1.75"/><circle cx="185.1" cy="276.0" r="1.75"/><circle cx="163.0" cy="261.3" r="1.75"/><circle cx="190.4" cy="280.6" r="1.75"/><circle cx="208.6" cy="278.8" r="1.75"/><circle cx="212.4" cy="274.4" r="1.75"/><circle cx="193.7" cy="285.7" r="1.75"/><circle cx="183.1" cy="269.5" r="1.75"/><circle cx="168.7" cy="267.5" r="1.75"/><circle cx="189.0" cy="279.4" r="1.75"/><circle cx="222.2" cy="279.7" r="1.75"/><circle cx="234.0" cy="276.4" r="1.75"/><circle cx="233.1" cy="280.3" r="1.75"/><circle cx="167.8" cy="267.0" r="1.75"/><circle cx="171.2" cy="270.0" r="1.75"/><circle cx="190.0" cy="281.3" r="1.75"/><circle cx="204.8" cy="292.5" r="1.75"/><circle cx="165.2" cy="270.0" r="1.75"/><circle cx="168.2" cy="265.6" r="1.75"/><circle cx="225.6" cy="280.2" r="1.75"/><circle cx="239.0" cy="271.1" r="1.75"/><circle cx="195.4" cy="291.3" r="1.75"/><circle cx="223.1" cy="277.2" r="1.75"/><circle cx="216.0" cy="281.4" r="1.75"/><circle cx="221.2" cy="279.5" r="1.75"/><circle cx="194.1" cy="287.9" r="1.75"/><circle cx="233.7" cy="274.9" r="1.75"/><circle cx="170.9" cy="265.6" r="1.75"/><circle cx="182.0" cy="270.8" r="1.75"/><circle cx="210.8" cy="281.4" r="1.75"/><circle cx="180.7" cy="272.8" r="1.75"/><circle cx="226.7" cy="278.4" r="1.75"/><circle cx="225.3" cy="279.5" r="1.75"/><circle cx="222.8" cy="276.7" r="1.75"/><circle cx="229.7" cy="273.8" r="1.75"/><circle cx="210.8" cy="279.1" r="1.75"/><circle cx="175.5" cy="269.7" r="1.75"/><circle cx="186.9" cy="271.9" r="1.75"/><circle cx="161.6" cy="265.7" r="1.75"/><circle cx="192.1" cy="279.8" r="1.75"/><circle cx="210.8" cy="274.2" r="1.75"/><circle cx="215.6" cy="277.4" r="1.75"/><circle cx="217.0" cy="274.1" r="1.75"/><circle cx="181.5" cy="272.4" r="1.75"/><circle cx="233.3" cy="273.7" r="1.75"/><circle cx="203.7" cy="291.0" r="1.75"/><circle cx="177.4" cy="274.5" r="1.75"/><circle cx="234.3" cy="275.4" r="1.75"/><circle cx="213.7" cy="278.4" r="1.75"/><circle cx="214.5" cy="279.2" r="1.75"/><circle cx="208.6" cy="282.4" r="1.75"/><circle cx="161.4" cy="264.9" r="1.75"/><circle cx="204.3" cy="292.5" r="1.75"/><circle cx="217.5" cy="275.4" r="1.75"/><circle cx="213.2" cy="282.5" r="1.75"/><circle cx="178.0" cy="272.4" r="1.75"/><circle cx="198.3" cy="292.5" r="1.75"/><circle cx="217.7" cy="280.9" r="1.75"/><circle cx="231.6" cy="275.2" r="1.75"/><circle cx="179.2" cy="274.5" r="1.75"/><circle cx="205.9" cy="284.9" r="1.75"/><circle cx="166.6" cy="266.3" r="1.75"/><circle cx="174.9" cy="271.4" r="1.75"/><circle cx="190.8" cy="282.0" r="1.75"/><circle cx="162.6" cy="262.2" r="1.75"/><circle cx="188.9" cy="276.2" r="1.75"/><circle cx="229.2" cy="278.6" r="1.75"/><circle cx="184.8" cy="273.3" r="1.75"/><circle cx="173.0" cy="267.2" r="1.75"/><circle cx="169.4" cy="269.5" r="1.75"/><circle cx="204.3" cy="288.3" r="1.75"/><circle cx="192.6" cy="285.7" r="1.75"/><circle cx="210.1" cy="279.8" r="1.75"/><circle cx="192.6" cy="288.7" r="1.75"/><circle cx="202.4" cy="292.5" r="1.75"/><circle cx="192.9" cy="289.2" r="1.75"/><circle cx="183.7" cy="274.5" r="1.75"/><circle cx="162.1" cy="261.9" r="1.75"/><circle cx="183.3" cy="273.3" r="1.75"/><circle cx="219.1" cy="279.4" r="1.75"/><circle cx="188.2" cy="279.5" r="1.75"/><circle cx="221.5" cy="279.6" r="1.75"/><circle cx="164.5" cy="268.0" r="1.75"/><circle cx="216.1" cy="281.0" r="1.75"/><circle cx="225.6" cy="273.6" r="1.75"/><circle cx="180.3" cy="272.3" r="1.75"/><circle cx="190.8" cy="283.8" r="1.75"/><circle cx="181.8" cy="271.4" r="1.75"/><circle cx="195.3" cy="285.9" r="1.75"/><circle cx="232.9" cy="277.9" r="1.75"/><circle cx="215.6" cy="278.3" r="1.75"/><circle cx="169.4" cy="271.1" r="1.75"/><circle cx="239.0" cy="278.0" r="1.75"/><circle cx="214.3" cy="274.9" r="1.75"/><circle cx="224.7" cy="270.2" r="1.75"/><circle cx="226.8" cy="279.7" r="1.75"/><circle cx="233.0" cy="280.2" r="1.75"/><circle cx="221.8" cy="274.8" r="1.75"/><circle cx="182.3" cy="270.6" r="1.75"/><circle cx="219.5" cy="276.9" r="1.75"/><circle cx="213.4" cy="274.6" r="1.75"/><circle cx="193.8" cy="287.6" r="1.75"/><circle cx="229.1" cy="277.0" r="1.75"/><circle cx="162.2" cy="261.7" r="1.75"/><circle cx="200.6" cy="292.5" r="1.75"/><circle cx="230.2" cy="276.2" r="1.75"/><circle cx="202.7" cy="292.5" r="1.75"/><circle cx="191.1" cy="281.0" r="1.75"/><circle cx="169.7" cy="268.1" r="1.75"/><circle cx="176.1" cy="276.9" r="1.75"/><circle cx="181.9" cy="272.8" r="1.75"/><circle cx="238.7" cy="277.7" r="1.75"/><circle cx="204.0" cy="292.5" r="1.75"/><circle cx="185.2" cy="277.2" r="1.75"/><circle cx="230.4" cy="275.4" r="1.75"/><circle cx="208.9" cy="280.3" r="1.75"/><circle cx="184.2" cy="274.1" r="1.75"/><circle cx="212.3" cy="275.2" r="1.75"/><circle cx="163.3" cy="262.4" r="1.75"/><circle cx="202.0" cy="292.5" r="1.75"/><circle cx="202.3" cy="292.5" r="1.75"/><circle cx="166.6" cy="264.3" r="1.75"/><circle cx="212.7" cy="278.7" r="1.75"/><circle cx="163.1" cy="264.8" r="1.75"/><circle cx="176.4" cy="270.7" r="1.75"/><circle cx="219.1" cy="279.5" r="1.75"/><circle cx="192.6" cy="284.9" r="1.75"/><circle cx="217.5" cy="276.0" r="1.75"/><circle cx="203.3" cy="291.2" r="1.75"/><circle cx="197.4" cy="292.5" r="1.75"/><circle cx="207.5" cy="277.8" r="1.75"/><circle cx="162.8" cy="261.2" r="1.75"/><circle cx="161.5" cy="258.8" r="1.75"/><circle cx="234.4" cy="276.1" r="1.75"/><circle cx="215.1" cy="277.5" r="1.75"/><circle cx="175.6" cy="269.9" r="1.75"/><circle cx="215.3" cy="277.0" r="1.75"/><circle cx="233.5" cy="276.0" r="1.75"/><circle cx="226.5" cy="278.3" r="1.75"/><circle cx="211.3" cy="278.7" r="1.75"/><circle cx="202.2" cy="292.5" r="1.75"/><circle cx="209.8" cy="280.3" r="1.75"/><circle cx="175.5" cy="271.3" r="1.75"/><circle cx="196.0" cy="291.4" r="1.75"/><circle cx="229.6" cy="280.7" r="1.75"/><circle cx="189.6" cy="279.3" r="1.75"/><circle cx="182.1" cy="269.2" r="1.75"/><circle cx="201.9" cy="289.4" r="1.75"/><circle cx="224.6" cy="282.7" r="1.75"/><circle cx="230.0" cy="279.3" r="1.75"/><circle cx="239.1" cy="272.4" r="1.75"/><circle cx="236.5" cy="275.1" r="1.75"/><circle cx="169.7" cy="268.3" r="1.75"/><circle cx="196.8" cy="292.3" r="1.75"/><circle cx="204.3" cy="292.4" r="1.75"/><circle cx="214.1" cy="280.4" r="1.75"/><circle cx="169.9" cy="265.9" r="1.75"/><circle cx="189.7" cy="282.0" r="1.75"/><circle cx="190.6" cy="281.6" r="1.75"/><circle cx="208.6" cy="276.2" r="1.75"/><circle cx="190.0" cy="277.8" r="1.75"/><circle cx="185.9" cy="273.4" r="1.75"/><circle cx="175.8" cy="272.3" r="1.75"/><circle cx="212.9" cy="279.4" r="1.75"/><circle cx="185.3" cy="274.5" r="1.75"/><circle cx="177.2" cy="273.0" r="1.75"/><circle cx="232.3" cy="273.6" r="1.75"/><circle cx="191.3" cy="283.4" r="1.75"/><circle cx="183.6" cy="271.9" r="1.75"/><circle cx="168.3" cy="266.3" r="1.75"/><circle cx="201.8" cy="291.5" r="1.75"/><circle cx="187.9" cy="277.3" r="1.75"/><circle cx="206.9" cy="281.9" r="1.75"/><circle cx="185.5" cy="273.0" r="1.75"/><circle cx="197.8" cy="292.2" r="1.75"/><circle cx="171.3" cy="270.8" r="1.75"/><circle cx="166.1" cy="270.4" r="1.75"/><circle cx="234.0" cy="274.4" r="1.75"/><circle cx="218.5" cy="276.3" r="1.75"/><circle cx="194.0" cy="288.3" r="1.75"/><circle cx="176.8" cy="272.8" r="1.75"/><circle cx="213.0" cy="277.3" r="1.75"/><circle cx="208.3" cy="282.3" r="1.75"/><circle cx="209.7" cy="277.2" r="1.75"/><circle cx="237.5" cy="273.2" r="1.75"/><circle cx="188.8" cy="276.1" r="1.75"/><circle cx="233.6" cy="274.1" r="1.75"/><circle cx="195.1" cy="292.5" r="1.75"/><circle cx="237.3" cy="273.7" r="1.75"/><circle cx="237.1" cy="275.9" r="1.75"/><circle cx="193.6" cy="284.0" r="1.75"/><circle cx="200.2" cy="290.0" r="1.75"/><circle cx="231.1" cy="275.1" r="1.75"/><circle cx="230.9" cy="277.2" r="1.75"/><circle cx="168.7" cy="261.1" r="1.75"/><circle cx="200.6" cy="292.5" r="1.75"/><circle cx="168.9" cy="270.1" r="1.75"/><circle cx="227.3" cy="275.7" r="1.75"/><circle cx="182.3" cy="276.3" r="1.75"/><circle cx="186.9" cy="270.7" r="1.75"/><circle cx="186.2" cy="271.6" r="1.75"/><circle cx="217.3" cy="274.9" r="1.75"/><circle cx="186.5" cy="272.0" r="1.75"/><circle cx="195.6" cy="289.0" r="1.75"/><circle cx="229.4" cy="280.5" r="1.75"/><circle cx="195.6" cy="291.2" r="1.75"/><circle cx="232.8" cy="275.1" r="1.75"/><circle cx="232.8" cy="276.9" r="1.75"/><circle cx="196.7" cy="290.8" r="1.75"/><circle cx="179.3" cy="274.2" r="1.75"/><circle cx="234.4" cy="277.7" r="1.75"/><circle cx="204.8" cy="291.7" r="1.75"/><circle cx="189.0" cy="276.7" r="1.75"/><circle cx="165.9" cy="265.3" r="1.75"/><circle cx="197.4" cy="292.5" r="1.75"/><circle cx="163.9" cy="268.1" r="1.75"/><circle cx="210.2" cy="273.8" r="1.75"/><circle cx="192.0" cy="286.3" r="1.75"/><circle cx="184.0" cy="275.1" r="1.75"/><circle cx="178.4" cy="274.2" r="1.75"/><circle cx="220.3" cy="275.9" r="1.75"/><circle cx="231.4" cy="278.6" r="1.75"/><circle cx="161.9" cy="262.1" r="1.75"/><circle cx="202.6" cy="291.7" r="1.75"/><circle cx="167.3" cy="269.0" r="1.75"/><circle cx="164.0" cy="264.0" r="1.75"/><circle cx="237.9" cy="277.4" r="1.75"/><circle cx="185.7" cy="273.7" r="1.75"/><circle cx="202.9" cy="290.7" r="1.75"/><circle cx="231.7" cy="277.3" r="1.75"/><circle cx="211.3" cy="280.1" r="1.75"/><circle cx="188.5" cy="278.6" r="1.75"/><circle cx="216.0" cy="278.4" r="1.75"/><circle cx="222.3" cy="277.2" r="1.75"/><circle cx="211.6" cy="283.2" r="1.75"/><circle cx="191.4" cy="286.8" r="1.75"/><circle cx="220.2" cy="276.9" r="1.75"/><circle cx="190.4" cy="281.1" r="1.75"/><circle cx="189.5" cy="279.3" r="1.75"/><circle cx="183.2" cy="272.6" r="1.75"/><circle cx="237.2" cy="275.3" r="1.75"/><circle cx="170.6" cy="270.2" r="1.75"/><circle cx="165.4" cy="264.9" r="1.75"/><circle cx="184.0" cy="271.7" r="1.75"/><circle cx="170.9" cy="268.7" r="1.75"/><circle cx="189.8" cy="279.8" r="1.75"/><circle cx="234.5" cy="278.4" r="1.75"/><circle cx="235.2" cy="275.2" r="1.75"/><circle cx="179.0" cy="275.3" r="1.75"/><circle cx="184.3" cy="274.8" r="1.75"/><circle cx="192.6" cy="284.5" r="1.75"/><circle cx="235.3" cy="275.4" r="1.75"/><circle cx="181.9" cy="270.5" r="1.75"/><circle cx="220.7" cy="276.0" r="1.75"/><circle cx="211.1" cy="276.9" r="1.75"/><circle cx="229.8" cy="278.1" r="1.75"/><circle cx="182.8" cy="273.1" r="1.75"/><circle cx="233.6" cy="276.8" r="1.75"/><circle cx="239.0" cy="270.4" r="1.75"/><circle cx="192.2" cy="283.0" r="1.75"/><circle cx="234.2" cy="277.6" r="1.75"/><circle cx="218.4" cy="280.0" r="1.75"/><circle cx="178.9" cy="269.8" r="1.75"/><circle cx="195.7" cy="292.1" r="1.75"/><circle cx="180.8" cy="272.0" r="1.75"/><circle cx="231.7" cy="276.4" r="1.75"/><circle cx="179.2" cy="270.3" r="1.75"/><circle cx="229.7" cy="279.4" r="1.75"/><circle cx="182.9" cy="272.0" r="1.75"/><circle cx="230.8" cy="276.6" r="1.75"/><circle cx="223.1" cy="276.2" r="1.75"/><circle cx="218.4" cy="274.9" r="1.75"/><circle cx="182.2" cy="272.8" r="1.75"/><circle cx="217.2" cy="278.5" r="1.75"/><circle cx="210.1" cy="276.5" r="1.75"/><circle cx="188.4" cy="280.7" r="1.75"/><circle cx="238.2" cy="274.2" r="1.75"/><circle cx="235.9" cy="277.7" r="1.75"/><circle cx="212.2" cy="280.8" r="1.75"/><circle cx="232.0" cy="280.3" r="1.75"/><circle cx="187.3" cy="279.6" r="1.75"/><circle cx="174.5" cy="270.3" r="1.75"/><circle cx="187.4" cy="273.9" r="1.75"/><circle cx="205.6" cy="289.1" r="1.75"/><circle cx="231.6" cy="274.5" r="1.75"/><circle cx="226.7" cy="278.0" r="1.75"/><circle cx="180.0" cy="273.9" r="1.75"/><circle cx="225.1" cy="280.5" r="1.75"/><circle cx="230.3" cy="275.5" r="1.75"/><circle cx="206.8" cy="282.2" r="1.75"/><circle cx="199.9" cy="289.6" r="1.75"/><circle cx="197.9" cy="292.5" r="1.75"/><circle cx="176.7" cy="273.0" r="1.75"/><circle cx="181.4" cy="276.0" r="1.75"/><circle cx="200.8" cy="289.9" r="1.75"/><circle cx="201.2" cy="290.9" r="1.75"/><circle cx="202.7" cy="291.3" r="1.75"/><circle cx="196.1" cy="290.8" r="1.75"/><circle cx="227.5" cy="278.3" r="1.75"/><circle cx="174.3" cy="272.9" r="1.75"/><circle cx="175.1" cy="269.7" r="1.75"/><circle cx="233.9" cy="277.6" r="1.75"/><circle cx="206.9" cy="281.4" r="1.75"/><circle cx="209.4" cy="278.4" r="1.75"/><circle cx="198.0" cy="292.5" r="1.75"/><circle cx="194.6" cy="291.6" r="1.75"/><circle cx="188.6" cy="279.6" r="1.75"/><circle cx="202.9" cy="292.5" r="1.75"/><circle cx="225.7" cy="280.9" r="1.75"/><circle cx="164.7" cy="263.3" r="1.75"/><circle cx="234.7" cy="273.3" r="1.75"/><circle cx="176.1" cy="271.1" r="1.75"/><circle cx="199.4" cy="292.5" r="1.75"/><circle cx="225.8" cy="283.3" r="1.75"/><circle cx="171.6" cy="268.0" r="1.75"/><circle cx="212.0" cy="274.6" r="1.75"/><circle cx="208.5" cy="280.8" r="1.75"/><circle cx="204.5" cy="291.3" r="1.75"/><circle cx="226.0" cy="278.6" r="1.75"/><circle cx="171.4" cy="271.3" r="1.75"/><circle cx="178.4" cy="270.3" r="1.75"/><circle cx="232.4" cy="277.8" r="1.75"/><circle cx="235.3" cy="273.7" r="1.75"/><circle cx="170.9" cy="265.5" r="1.75"/><circle cx="213.5" cy="278.3" r="1.75"/><circle cx="168.9" cy="263.5" r="1.75"/><circle cx="234.1" cy="279.1" r="1.75"/><circle cx="234.8" cy="273.7" r="1.75"/><circle cx="215.1" cy="278.0" r="1.75"/><circle cx="198.7" cy="286.6" r="1.75"/><circle cx="212.1" cy="277.9" r="1.75"/><circle cx="204.9" cy="292.5" r="1.75"/><circle cx="225.6" cy="274.3" r="1.75"/><circle cx="226.2" cy="281.5" r="1.75"/><circle cx="228.4" cy="276.8" r="1.75"/><circle cx="226.6" cy="279.7" r="1.75"/><circle cx="178.5" cy="269.4" r="1.75"/><circle cx="177.3" cy="272.7" r="1.75"/><circle cx="215.6" cy="276.0" r="1.75"/><circle cx="204.2" cy="292.5" r="1.75"/><circle cx="236.8" cy="277.6" r="1.75"/><circle cx="165.6" cy="270.1" r="1.75"/><circle cx="192.8" cy="280.9" r="1.75"/><circle cx="228.9" cy="277.1" r="1.75"/><circle cx="196.3" cy="292.5" r="1.75"/><circle cx="171.7" cy="270.8" r="1.75"/><circle cx="186.8" cy="272.6" r="1.75"/><circle cx="236.3" cy="278.7" r="1.75"/><circle cx="221.4" cy="272.8" r="1.75"/><circle cx="226.7" cy="278.6" r="1.75"/><circle cx="181.6" cy="273.8" r="1.75"/><circle cx="223.8" cy="275.1" r="1.75"/><circle cx="161.7" cy="262.7" r="1.75"/><circle cx="178.4" cy="274.9" r="1.75"/><circle cx="210.1" cy="276.5" r="1.75"/><circle cx="212.6" cy="277.0" r="1.75"/><circle cx="196.8" cy="289.3" r="1.75"/><circle cx="236.0" cy="277.5" r="1.75"/><circle cx="190.1" cy="282.9" r="1.75"/><circle cx="182.5" cy="271.6" r="1.75"/><circle cx="177.2" cy="273.4" r="1.75"/><circle cx="219.5" cy="283.0" r="1.75"/><circle cx="224.9" cy="279.4" r="1.75"/><circle cx="225.6" cy="276.6" r="1.75"/><circle cx="209.8" cy="280.5" r="1.75"/><circle cx="164.0" cy="261.5" r="1.75"/><circle cx="193.6" cy="287.6" r="1.75"/><circle cx="174.3" cy="272.4" r="1.75"/><circle cx="183.3" cy="276.9" r="1.75"/><circle cx="163.4" cy="265.9" r="1.75"/><circle cx="215.4" cy="278.5" r="1.75"/><circle cx="180.8" cy="271.5" r="1.75"/><circle cx="205.1" cy="291.2" r="1.75"/><circle cx="236.3" cy="272.9" r="1.75"/><circle cx="179.6" cy="277.7" r="1.75"/><circle cx="183.6" cy="273.1" r="1.75"/><circle cx="181.3" cy="273.2" r="1.75"/><circle cx="166.4" cy="268.1" r="1.75"/><circle cx="205.5" cy="289.9" r="1.75"/><circle cx="204.3" cy="292.5" r="1.75"/><circle cx="208.0" cy="279.3" r="1.75"/><circle cx="236.3" cy="276.1" r="1.75"/><circle cx="206.2" cy="285.2" r="1.75"/><circle cx="208.8" cy="281.7" r="1.75"/><circle cx="230.7" cy="274.2" r="1.75"/><circle cx="229.4" cy="276.6" r="1.75"/><circle cx="202.1" cy="288.4" r="1.75"/><circle cx="208.5" cy="280.2" r="1.75"/><circle cx="189.9" cy="281.1" r="1.75"/><circle cx="200.1" cy="292.2" r="1.75"/><circle cx="198.9" cy="292.5" r="1.75"/><circle cx="202.6" cy="292.5" r="1.75"/><circle cx="179.6" cy="272.7" r="1.75"/><circle cx="208.1" cy="280.4" r="1.75"/><circle cx="183.4" cy="274.7" r="1.75"/><circle cx="185.5" cy="274.3" r="1.75"/><circle cx="185.2" cy="275.6" r="1.75"/><circle cx="222.5" cy="277.7" r="1.75"/><circle cx="166.7" cy="269.1" r="1.75"/><circle cx="238.9" cy="270.4" r="1.75"/><circle cx="174.1" cy="272.1" r="1.75"/><circle cx="209.5" cy="276.9" r="1.75"/><circle cx="179.4" cy="275.5" r="1.75"/><circle cx="214.7" cy="277.2" r="1.75"/><circle cx="228.0" cy="278.2" r="1.75"/><circle cx="195.1" cy="286.9" r="1.75"/><circle cx="197.8" cy="290.5" r="1.75"/><circle cx="238.0" cy="278.4" r="1.75"/><circle cx="207.2" cy="279.5" r="1.75"/><circle cx="189.8" cy="283.3" r="1.75"/><circle cx="179.2" cy="269.6" r="1.75"/><circle cx="227.5" cy="278.2" r="1.75"/><circle cx="215.8" cy="280.8" r="1.75"/><circle cx="185.5" cy="271.8" r="1.75"/><circle cx="200.7" cy="292.4" r="1.75"/><circle cx="172.0" cy="272.6" r="1.75"/><circle cx="221.9" cy="279.7" r="1.75"/><circle cx="231.4" cy="275.8" r="1.75"/><circle cx="218.0" cy="281.2" r="1.75"/><circle cx="216.8" cy="280.0" r="1.75"/><circle cx="171.4" cy="265.6" r="1.75"/><circle cx="232.3" cy="278.4" r="1.75"/><circle cx="207.7" cy="279.7" r="1.75"/><circle cx="231.1" cy="276.0" r="1.75"/><circle cx="219.5" cy="275.8" r="1.75"/><circle cx="230.5" cy="275.2" r="1.75"/><circle cx="224.3" cy="283.9" r="1.75"/><circle cx="218.3" cy="279.2" r="1.75"/><circle cx="208.0" cy="277.6" r="1.75"/><circle cx="224.5" cy="258.6" r="1.75"/><circle cx="162.8" cy="258.0" r="1.75"/><circle cx="215.0" cy="267.7" r="1.75"/><circle cx="215.2" cy="271.2" r="1.75"/><circle cx="220.1" cy="275.4" r="1.75"/><circle cx="209.4" cy="274.7" r="1.75"/><circle cx="170.5" cy="264.3" r="1.75"/><circle cx="190.5" cy="267.5" r="1.75"/><circle cx="163.8" cy="256.2" r="1.75"/><circle cx="235.4" cy="263.1" r="1.75"/><circle cx="227.3" cy="266.4" r="1.75"/><circle cx="213.2" cy="275.9" r="1.75"/><circle cx="214.6" cy="266.1" r="1.75"/><circle cx="168.1" cy="258.8" r="1.75"/><circle cx="186.2" cy="263.1" r="1.75"/><circle cx="214.6" cy="276.4" r="1.75"/><circle cx="213.3" cy="275.0" r="1.75"/><circle cx="174.3" cy="270.1" r="1.75"/><circle cx="162.3" cy="261.6" r="1.75"/><circle cx="166.2" cy="252.8" r="1.75"/><circle cx="167.6" cy="260.5" r="1.75"/><circle cx="177.5" cy="267.2" r="1.75"/><circle cx="233.3" cy="274.6" r="1.75"/><circle cx="228.7" cy="260.0" r="1.75"/><circle cx="167.8" cy="255.3" r="1.75"/><circle cx="176.4" cy="258.5" r="1.75"/><circle cx="237.6" cy="268.4" r="1.75"/><circle cx="168.6" cy="264.8" r="1.75"/><circle cx="186.9" cy="272.7" r="1.75"/><circle cx="234.7" cy="268.0" r="1.75"/><circle cx="228.8" cy="264.4" r="1.75"/><circle cx="218.0" cy="277.5" r="1.75"/><circle cx="179.1" cy="270.5" r="1.75"/><circle cx="171.0" cy="260.5" r="1.75"/><circle cx="161.6" cy="235.6" r="1.75"/><circle cx="214.1" cy="272.4" r="1.75"/><circle cx="188.7" cy="270.0" r="1.75"/><circle cx="217.4" cy="263.2" r="1.75"/><circle cx="218.5" cy="271.5" r="1.75"/><circle cx="213.4" cy="274.9" r="1.75"/><circle cx="186.6" cy="272.5" r="1.75"/><circle cx="229.2" cy="274.9" r="1.75"/><circle cx="168.7" cy="259.1" r="1.75"/><circle cx="170.6" cy="245.4" r="1.75"/><circle cx="162.5" cy="254.2" r="1.75"/><circle cx="163.6" cy="242.6" r="1.75"/><circle cx="178.9" cy="261.8" r="1.75"/><circle cx="180.9" cy="270.1" r="1.75"/><circle cx="221.4" cy="272.8" r="1.75"/><circle cx="174.8" cy="268.8" r="1.75"/><circle cx="168.3" cy="256.0" r="1.75"/><circle cx="190.1" cy="273.4" r="1.75"/><circle cx="190.2" cy="272.7" r="1.75"/><circle cx="234.5" cy="275.5" r="1.75"/><circle cx="168.2" cy="260.0" r="1.75"/><circle cx="163.5" cy="249.0" r="1.75"/><circle cx="232.7" cy="275.7" r="1.75"/><circle cx="170.4" cy="262.8" r="1.75"/><circle cx="234.8" cy="275.4" r="1.75"/><circle cx="188.1" cy="271.5" r="1.75"/><circle cx="161.7" cy="262.8" r="1.75"/><circle cx="230.4" cy="273.8" r="1.75"/><circle cx="238.9" cy="265.6" r="1.75"/><circle cx="167.8" cy="251.3" r="1.75"/><circle cx="218.6" cy="262.9" r="1.75"/><circle cx="162.0" cy="262.2" r="1.75"/><circle cx="174.8" cy="265.6" r="1.75"/><circle cx="174.6" cy="272.1" r="1.75"/><circle cx="174.5" cy="261.6" r="1.75"/><circle cx="228.3" cy="270.7" r="1.75"/><circle cx="176.3" cy="269.4" r="1.75"/><circle cx="235.2" cy="268.9" r="1.75"/><circle cx="235.2" cy="270.2" r="1.75"/><circle cx="182.5" cy="264.7" r="1.75"/><circle cx="237.2" cy="274.4" r="1.75"/><circle cx="184.5" cy="259.5" r="1.75"/><circle cx="187.7" cy="265.3" r="1.75"/><circle cx="174.5" cy="267.5" r="1.75"/><circle cx="234.8" cy="263.7" r="1.75"/><circle cx="170.1" cy="267.2" r="1.75"/><circle cx="172.5" cy="248.8" r="1.75"/><circle cx="221.2" cy="259.4" r="1.75"/><circle cx="189.6" cy="277.9" r="1.75"/><circle cx="230.7" cy="270.8" r="1.75"/><circle cx="236.6" cy="273.5" r="1.75"/><circle cx="190.0" cy="272.4" r="1.75"/><circle cx="236.4" cy="268.2" r="1.75"/><circle cx="165.0" cy="242.7" r="1.75"/><circle cx="224.5" cy="262.7" r="1.75"/><circle cx="229.3" cy="274.1" r="1.75"/><circle cx="184.5" cy="269.9" r="1.75"/><circle cx="223.4" cy="273.7" r="1.75"/><circle cx="177.6" cy="270.0" r="1.75"/><circle cx="178.8" cy="271.3" r="1.75"/><circle cx="170.7" cy="261.1" r="1.75"/><circle cx="166.1" cy="262.4" r="1.75"/><circle cx="168.8" cy="257.9" r="1.75"/><circle cx="164.1" cy="243.1" r="1.75"/><circle cx="168.3" cy="245.9" r="1.75"/><circle cx="172.8" cy="252.6" r="1.75"/><circle cx="168.4" cy="266.9" r="1.75"/><circle cx="236.4" cy="269.4" r="1.75"/><circle cx="219.0" cy="269.7" r="1.75"/><circle cx="166.6" cy="246.3" r="1.75"/><circle cx="167.6" cy="265.8" r="1.75"/><circle cx="164.3" cy="234.8" r="1.75"/><circle cx="161.6" cy="252.6" r="1.75"/><circle cx="218.9" cy="260.2" r="1.75"/><circle cx="229.9" cy="258.2" r="1.75"/><circle cx="226.6" cy="276.0" r="1.75"/><circle cx="186.6" cy="274.6" r="1.75"/><circle cx="213.5" cy="276.8" r="1.75"/><circle cx="174.8" cy="262.0" r="1.75"/><circle cx="210.6" cy="268.7" r="1.75"/><circle cx="227.0" cy="254.1" r="1.75"/><circle cx="187.0" cy="249.9" r="1.75"/><circle cx="235.2" cy="267.5" r="1.75"/><circle cx="163.0" cy="261.5" r="1.75"/><circle cx="168.4" cy="267.0" r="1.75"/><circle cx="164.4" cy="261.0" r="1.75"/><circle cx="229.9" cy="275.0" r="1.75"/><circle cx="161.9" cy="257.5" r="1.75"/><circle cx="170.0" cy="239.7" r="1.75"/><circle cx="174.5" cy="270.3" r="1.75"/><circle cx="208.6" cy="264.8" r="1.75"/><circle cx="208.2" cy="275.8" r="1.75"/><circle cx="222.7" cy="273.6" r="1.75"/><circle cx="170.6" cy="259.7" r="1.75"/><circle cx="181.4" cy="252.1" r="1.75"/><circle cx="188.8" cy="269.6" r="1.75"/><circle cx="221.5" cy="271.3" r="1.75"/><circle cx="163.6" cy="239.1" r="1.75"/><circle cx="224.6" cy="255.4" r="1.75"/><circle cx="172.0" cy="262.4" r="1.75"/><circle cx="212.0" cy="275.3" r="1.75"/><circle cx="178.1" cy="271.3" r="1.75"/><circle cx="209.5" cy="272.5" r="1.75"/><circle cx="161.3" cy="251.4" r="1.75"/><circle cx="179.3" cy="263.0" r="1.75"/><circle cx="236.3" cy="250.7" r="1.75"/><circle cx="229.5" cy="258.0" r="1.75"/><circle cx="185.3" cy="253.2" r="1.75"/><circle cx="208.3" cy="260.0" r="1.75"/><circle cx="236.2" cy="269.9" r="1.75"/><circle cx="214.4" cy="276.1" r="1.75"/><circle cx="162.5" cy="259.4" r="1.75"/><circle cx="166.3" cy="239.4" r="1.75"/><circle cx="236.3" cy="249.6" r="1.75"/><circle cx="191.4" cy="280.8" r="1.75"/><circle cx="238.4" cy="250.0" r="1.75"/><circle cx="183.5" cy="256.3" r="1.75"/><circle cx="227.6" cy="278.0" r="1.75"/><circle cx="180.2" cy="234.9" r="1.75"/><circle cx="161.8" cy="246.1" r="1.75"/><circle cx="229.7" cy="262.5" r="1.75"/><circle cx="226.5" cy="253.8" r="1.75"/><circle cx="165.9" cy="262.0" r="1.75"/><circle cx="177.5" cy="271.4" r="1.75"/><circle cx="238.8" cy="272.4" r="1.75"/><circle cx="238.8" cy="265.4" r="1.75"/><circle cx="177.5" cy="256.8" r="1.75"/></g>
<path d="M161 17V305.1M239.5 17V305.1M27.7 226.8H373" stroke="#6e6e6e" stroke-width="0.7" stroke-dasharray="2.2 1.6" fill="none"/>
<g fill="#6f8fc8" fill-opacity="0.8"><circle cx="163.5" cy="205.8" r="1.7"/><circle cx="166.3" cy="207.7" r="1.7"/><circle cx="163.5" cy="214.4" r="1.7"/><circle cx="171" cy="224" r="1.7"/><circle cx="172" cy="221" r="1.7"/><circle cx="168" cy="218" r="1.7"/><circle cx="175" cy="226" r="1.7"/><circle cx="160" cy="219" r="1.7"/></g><g fill="#f3cccc" stroke="#a82a30" stroke-width="0.8"><circle cx="105" cy="38.8" r="1.45"/><circle cx="134.6" cy="152.5" r="1.45"/><circle cx="115.6" cy="167.3" r="1.45"/><circle cx="117.7" cy="170.2" r="1.45"/><circle cx="120.3" cy="172.5" r="1.45"/><circle cx="127.2" cy="172" r="1.45"/><circle cx="142.8" cy="170.3" r="1.45"/><circle cx="149.7" cy="171.1" r="1.45"/><circle cx="126.7" cy="184" r="1.45"/><circle cx="140.2" cy="185.3" r="1.45"/><circle cx="123.7" cy="191.9" r="1.45"/><circle cx="133.3" cy="193.6" r="1.45"/><circle cx="141.9" cy="193.6" r="1.45"/><circle cx="70.4" cy="179.2" r="1.45"/><circle cx="52.7" cy="185" r="1.45"/><circle cx="56" cy="187.5" r="1.45"/><circle cx="63" cy="188.5" r="1.45"/><circle cx="51.2" cy="189.4" r="1.45"/><circle cx="96.3" cy="186.5" r="1.45"/><circle cx="100.2" cy="185.2" r="1.45"/><circle cx="124.2" cy="202" r="1.45"/><circle cx="103" cy="207.7" r="1.45"/><circle cx="78" cy="216.3" r="1.45"/><circle cx="81" cy="220.2" r="1.45"/><circle cx="79" cy="223" r="1.45"/><circle cx="54" cy="220.8" r="1.45"/><circle cx="66.5" cy="222" r="1.45"/><circle cx="114.6" cy="224" r="1.45"/><circle cx="119" cy="226" r="1.45"/><circle cx="124" cy="224.5" r="1.45"/><circle cx="131" cy="222" r="1.45"/><circle cx="138" cy="224" r="1.45"/><circle cx="146" cy="217" r="1.45"/><circle cx="150" cy="223" r="1.45"/><circle cx="157" cy="222" r="1.45"/><circle cx="146" cy="209" r="1.45"/><circle cx="152" cy="204" r="1.45"/><circle cx="139" cy="203" r="1.45"/><circle cx="131" cy="201" r="1.45"/><circle cx="112" cy="199" r="1.45"/><circle cx="118" cy="181" r="1.45"/><circle cx="108" cy="172" r="1.45"/><circle cx="160" cy="196" r="1.45"/><circle cx="156" cy="188" r="1.45"/><circle cx="170" cy="200" r="1.45"/><circle cx="165" cy="226" r="1.45"/><circle cx="105" cy="228" r="1.45"/><circle cx="334.3" cy="170.8" r="1.45"/><circle cx="309.3" cy="192.6" r="1.45"/><circle cx="240.8" cy="202" r="1.45"/><circle cx="321.8" cy="225.2" r="1.45"/><circle cx="59" cy="226" r="1.45"/></g><path d="M147 184.6L141.3 187.5M154.8 177L147.6 181.2M160.6 198.6L152 203.5M138 209.5L131 214M120 193L116 196M100 183L95 186M154 169L149 171M123 205L118 209M150 222L146 226M162 228L168 224" stroke="#333" stroke-width="0.5" fill="none"/><g font-size="5.65" fill="#111" stroke="#111" stroke-width="0.12"><text x="102" y="37.0">APOD</text><text x="132.9" y="151.0">IFIT2</text><text x="99.9" y="165.0">PPAP2A</text><text x="145" y="165.0">PLSCR4</text><text x="124.6" y="168.8">NR2F1</text><text x="104.7" y="171.8">TIMP3</text><text x="153.1" y="171.8">EPHX1</text><text x="65.6" y="177.0">PRKCZ</text><text x="92" y="178.9">SLC40A1</text><text x="127.2" y="178.9">GALNT18</text><text x="154" y="178.9">SMAD9</text><text x="38.7" y="183.7">IGFBP2</text><text x="148.8" y="186.0">DMTN</text><text x="166" y="186.0">COL4A2</text><text x="60.8" y="187.2">LYPD6</text><text x="82.9" y="187.0">HEY1</text><text x="101.2" y="186.0">FLJ41200</text><text x="30" y="190.8">FAM110B</text><text x="66.5" y="193.3">SELE</text><text x="83" y="193.3">LOC100288152</text><text x="127.2" y="193.0">IQSEC1</text><text x="148.8" y="193.4">FLT4</text><text x="166" y="193.2">BAIAP2</text><text x="35.8" y="198.5">EMILIN1</text><text x="102" y="200.5">ZNF273</text><text x="125" y="200.3">GJC2</text><text x="142.3" y="200.3">NINJ2</text><text x="162.5" y="200.3">MFGE8</text><text x="77" y="207.8">SEMA3A</text><text x="101" y="208.0">SLC45A4</text><text x="130.8" y="207.8">IL1R1</text><text x="158.7" y="207.8">CPE</text><text x="166.3" y="209.0">FAM102A</text><text x="68.5" y="214.5">ABCA4</text><text x="115" y="214.8">CX3CL1</text><text x="140.4" y="214.5">PGM5P2</text><text x="165.4" y="216.4">PYGL</text><text x="30" y="219.3">LOC102723913</text><text x="81" y="221.2">LOC644172</text><text x="114" y="222.2">CDKN1C</text><text x="139.4" y="222.2">ANKRD6</text><text x="163.5" y="225.5">FGF13</text><text x="41.5" y="226.6">RBP1</text><text x="67.5" y="229.0">ANK2</text><text x="91.5" y="229.0">MOB3B</text><text x="115.4" y="230.5">NALCN</text><text x="136.5" y="230.5">ATP1A</text><text x="153.8" y="232.4">LRRC1</text><text x="106" y="236.6">SCN3B</text><text x="131.7" y="236.6">REP15</text><text x="319.4" y="177.0">PCDH10</text><text x="307.3" y="191.5">VCAN</text><text x="226" y="208.0">CACNG8</text><text x="315.2" y="222.7">KCNAB1</text></g>
<path d="M27.7 17V305.1H373" stroke="#222" stroke-width="1" fill="none"/>
<path d="M43.2 305.1v3.6M121.7 305.1v3.6M200.2 305.1v3.6M278.8 305.1v3.6M357.3 305.1v3.6M27.7 292.5h-3.6M27.7 226.8h-3.6M27.7 161h-3.6M27.7 95.2h-3.6M27.7 29.5h-3.6" stroke="#222" stroke-width="0.9" fill="none"/>
<text x="43.2" y="320" font-size="7.6" text-anchor="middle" fill="#222">−6</text>
<text x="121.7" y="320" font-size="7.6" text-anchor="middle" fill="#222">−3</text>
<text x="200.2" y="320" font-size="7.6" text-anchor="middle" fill="#222">0</text>
<text x="278.8" y="320" font-size="7.6" text-anchor="middle" fill="#222">3</text>
<text x="357.3" y="320" font-size="7.6" text-anchor="middle" fill="#222">6</text>
<text x="20.6" y="295.2" font-size="7.6" text-anchor="end" fill="#222">0</text>
<text x="20.6" y="229.4" font-size="7.6" text-anchor="end" fill="#222">1</text>
<text x="20.6" y="163.7" font-size="7.6" text-anchor="end" fill="#222">2</text>
<text x="20.6" y="98" font-size="7.6" text-anchor="end" fill="#222">3</text>
<text x="20.6" y="32.2" font-size="7.6" text-anchor="end" fill="#222">4</text>
<text transform="translate(200.4 333) scale(0.65 1)" font-size="10" text-anchor="middle" fill="#222" stroke="#222" stroke-width="0.3">Log<tspan font-size="6.5" dy="2">2</tspan><tspan dy="-2"> fold change</tspan></text>
<text transform="translate(9.9 162.2) rotate(-90) scale(0.66 1)" font-size="10" text-anchor="middle" fill="#222" stroke="#222" stroke-width="0.3">−Log<tspan font-size="6.5" dy="2">10</tspan><tspan dy="-2" font-style="italic"> P</tspan> adj</text>
<text x="375.5" y="335.5" font-size="8.1" text-anchor="end" fill="#222">total = 33121 variables</text>
<circle cx="51.7" cy="6.9" r="2.3" fill="#a0a0a0"/>
<circle cx="92.9" cy="6.9" r="2.3" fill="#8fc48a"/>
<circle cx="157.8" cy="6.9" r="2.3" fill="#97aed6"/>
<circle cx="261.5" cy="6.9" r="2.3" fill="#e88c8c"/>
<text y="9.5" font-size="7.4" fill="#333"><tspan x="56.9">Not sig.</tspan><tspan x="97.8">Log2FC &lt;1.5&gt;</tspan><tspan x="163.7"><tspan font-style="italic">P</tspan>-adj&lt;0.1 &amp; Log2FC &lt;1.5&gt;</tspan><tspan x="267.7"><tspan font-style="italic">P</tspan>-value &amp; Log (base 2) FC</tspan></text>
<text x="2.3" y="10.8" font-size="11" font-weight="bold" fill="#111">A</text>
<text x="389.5" y="10.8" font-size="11" font-weight="bold" fill="#111">B</text>
<text x="476.5" y="24.6" font-size="10" font-weight="bold" text-anchor="middle" fill="#111">VWF</text>
<text x="477.5" y="37.4" font-size="7.8" text-anchor="middle" fill="#222"><tspan font-style="italic">P</tspan>-adj = .99</text>
<path d="M458.5 39.6H497" stroke="#444" stroke-width="0.9"/>
<path d="M432.5 34V131.5H520" stroke="#222" stroke-width="1" fill="none"/>
<path d="M432.5 131.4h-3.2M432.5 112.4h-3.2M432.5 93.4h-3.2M432.5 74.4h-3.2M432.5 55.4h-3.2M432.5 36.4h-3.2M457.2 131.5v3.2M494.6 131.5v3.2" stroke="#222" stroke-width="0.9"/>
<text x="426.3" y="134.3" font-size="8.2" text-anchor="end" fill="#222">0</text>
<text x="426.3" y="115.3" font-size="8.2" text-anchor="end" fill="#222">2000</text>
<text x="426.3" y="96.3" font-size="8.2" text-anchor="end" fill="#222">4000</text>
<text x="426.3" y="77.3" font-size="8.2" text-anchor="end" fill="#222">6000</text>
<text x="426.3" y="58.3" font-size="8.2" text-anchor="end" fill="#222">8000</text>
<text x="426.3" y="39.3" font-size="8.2" text-anchor="end" fill="#222">10000</text>
<text transform="translate(396.5 84) rotate(-90) scale(0.85 1)" font-size="7.4" text-anchor="middle" fill="#222" stroke="#222" stroke-width="0.15">Relative expression</text>
<text x="457.2" y="144.2" font-size="7.6" text-anchor="middle" fill="#222">Control</text>
<text x="494.6" y="144.2" font-size="7.6" text-anchor="middle" fill="#222">Type 1</text>
<text x="494.6" y="153.8" font-size="7.6" text-anchor="middle" fill="#222">VWD</text>
<path d="M445.3 87.1H470M482.4 112.3H507" stroke="#555" stroke-width="1.1"/>
<circle cx="457.2" cy="49.5" r="1.9" fill="#b5172b"/>
<circle cx="457.2" cy="71.6" r="1.9" fill="#b5172b"/>
<circle cx="457.2" cy="102.5" r="1.9" fill="#b5172b"/>
<circle cx="457.2" cy="118.6" r="1.9" fill="#b5172b"/>
<circle cx="494.6" cy="51.7" r="1.9" fill="#b5172b"/>
<circle cx="491" cy="83.8" r="1.9" fill="#b5172b"/>
<circle cx="498.5" cy="84.8" r="1.9" fill="#b5172b"/>
<circle cx="494.6" cy="108.2" r="1.9" fill="#b5172b"/>
<circle cx="502.4" cy="118" r="1.9" fill="#b5172b"/>
<circle cx="487.6" cy="124" r="1.9" fill="#b5172b"/>
<circle cx="494.6" cy="121.2" r="1.9" fill="#b5172b"/>
<circle cx="502.4" cy="123.2" r="1.9" fill="#b5172b"/>
<text x="389.8" y="192.8" font-size="11" font-weight="bold" fill="#111">C</text>
<text x="476.3" y="200" font-size="10" font-weight="bold" text-anchor="middle" fill="#111">V2R</text>
<text x="477.2" y="212.8" font-size="7.8" text-anchor="middle" fill="#222"><tspan font-style="italic">P</tspan> adj = 1</text>
<path d="M458.5 215.3H497.2" stroke="#444" stroke-width="0.9"/>
<path d="M432.3 208V305.6H520" stroke="#222" stroke-width="1" fill="none"/>
<path d="M432.3 305.6h-3.2M432.3 286.6h-3.2M432.3 267.6h-3.2M432.3 248.6h-3.2M432.3 229.6h-3.2M432.3 210.6h-3.2M457.2 305.6v3.2M494.6 305.6v3.2" stroke="#222" stroke-width="0.9"/>
<text x="426.3" y="308.5" font-size="8.2" text-anchor="end" fill="#222">0</text>
<text x="426.3" y="289.5" font-size="8.2" text-anchor="end" fill="#222">2</text>
<text x="426.3" y="270.5" font-size="8.2" text-anchor="end" fill="#222">4</text>
<text x="426.3" y="251.5" font-size="8.2" text-anchor="end" fill="#222">6</text>
<text x="426.3" y="232.5" font-size="8.2" text-anchor="end" fill="#222">8</text>
<text x="426.3" y="213.5" font-size="8.2" text-anchor="end" fill="#222">10</text>
<text transform="translate(410.5 258) rotate(-90) scale(0.85 1)" font-size="7.4" text-anchor="middle" fill="#222" stroke="#222" stroke-width="0.15">Relative expression</text>
<text x="457.2" y="318.5" font-size="7.6" text-anchor="middle" fill="#222">Control</text>
<text x="494.6" y="318.5" font-size="7.6" text-anchor="middle" fill="#222">Type 1</text>
<text x="494.6" y="328.1" font-size="7.6" text-anchor="middle" fill="#222">VWD</text>
<circle cx="446.6" cy="305.5" r="1.7" fill="#b5172b"/>
<circle cx="453.3" cy="305.5" r="1.7" fill="#b5172b"/>
<circle cx="460.6" cy="305.5" r="1.7" fill="#b5172b"/>
<circle cx="467.6" cy="305.5" r="1.7" fill="#b5172b"/>
<circle cx="483.7" cy="305.5" r="1.7" fill="#b5172b"/>
<circle cx="487.3" cy="305.5" r="1.7" fill="#b5172b"/>
<circle cx="491.2" cy="305.5" r="1.7" fill="#b5172b"/>
<circle cx="494.6" cy="305.5" r="1.7" fill="#b5172b"/>
<circle cx="498.5" cy="305.5" r="1.7" fill="#b5172b"/>
<circle cx="502.1" cy="305.5" r="1.7" fill="#b5172b"/>
<circle cx="505.5" cy="305.5" r="1.7" fill="#b5172b"/>
<circle cx="494.6" cy="297.2" r="1.8" fill="#b5172b"/>
<text x="106.6" y="362.3" font-size="11" font-weight="bold" fill="#111">D</text>
<style>.cg{fill:#62b23a;fill-opacity:.57;stroke:#4fa82a;stroke-opacity:.3;stroke-width:.5}.cr{fill:#e85a5a;fill-opacity:.63;stroke:#e85a5a;stroke-opacity:.35;stroke-width:.6}</style>
<path class="cg" d="M332.05 407.12A121.3 121.3 0 0 1 336.10 410.19Q260.75 505.25 196.31 608.02A121.3 121.3 0 0 1 192.18 605.31Q260.75 505.25 332.05 407.12Z"/><path class="cg" d="M139.72 513.29A121.3 121.3 0 0 1 139.49 508.43Q260.75 505.25 361.75 572.42A121.3 121.3 0 0 1 358.86 576.58Q260.75 505.25 139.72 513.29Z"/><path class="cg" d="M140.66 488.16A121.3 121.3 0 0 1 141.40 483.56Q260.75 505.25 350.59 586.75A121.3 121.3 0 0 1 346.91 590.63Q260.75 505.25 140.66 488.16Z"/><path class="cr" d="M139.58 499.64A121.3 121.3 0 0 1 139.86 495.31Q260.75 505.25 306.35 617.65A121.3 121.3 0 0 1 302.04 619.31Q260.75 505.25 139.58 499.64Z"/><path class="cg" d="M252.29 384.25A121.3 121.3 0 0 1 257.26 384.00Q260.75 505.25 176.86 592.86A121.3 121.3 0 0 1 173.36 589.37Q260.75 505.25 252.29 384.25Z"/><path class="cg" d="M140.09 492.78A121.3 121.3 0 0 1 140.66 488.16Q260.75 505.25 210.42 615.62A121.3 121.3 0 0 1 206.02 613.50Q260.75 505.25 140.09 492.78Z"/><path class="cg" d="M279.37 385.39A121.3 121.3 0 0 1 284.32 386.26Q260.75 505.25 282.15 624.65A121.3 121.3 0 0 1 277.60 625.37Q260.75 505.25 279.37 385.39Z"/><path class="cg" d="M377.39 471.96A121.3 121.3 0 0 1 378.70 476.93Q260.75 505.25 159.95 572.72A121.3 121.3 0 0 1 157.39 568.73Q260.75 505.25 377.39 471.96Z"/><path class="cg" d="M233.94 386.95A121.3 121.3 0 0 1 238.53 386.00Q260.75 505.25 277.60 625.37A121.3 121.3 0 0 1 273.02 625.93Q260.75 505.25 233.94 386.95Z"/><path class="cg" d="M177.41 417.12A121.3 121.3 0 0 1 181.17 413.70Q260.75 505.25 375.27 545.24A121.3 121.3 0 0 1 373.50 550.00Q260.75 505.25 177.41 417.12Z"/><path class="cg" d="M364.18 441.87A121.3 121.3 0 0 1 367.05 446.81Q260.75 505.25 152.75 560.48A121.3 121.3 0 0 1 150.68 556.22Q260.75 505.25 364.18 441.87Z"/><path class="cg" d="M348.59 421.60A121.3 121.3 0 0 1 352.99 426.47Q260.75 505.25 299.98 620.03A121.3 121.3 0 0 1 295.59 621.44Q260.75 505.25 348.59 421.60Z"/><path class="cg" d="M320.32 399.58A121.3 121.3 0 0 1 324.49 402.05Q260.75 505.25 188.16 602.43A121.3 121.3 0 0 1 184.27 599.40Q260.75 505.25 320.32 399.58Z"/><path class="cg" d="M201.02 399.68A121.3 121.3 0 0 1 205.30 397.36Q260.75 505.25 263.83 626.51A121.3 121.3 0 0 1 259.22 626.54Q260.75 505.25 201.02 399.68Z"/><path class="cg" d="M381.75 496.70A121.3 121.3 0 0 1 382.00 501.66Q260.75 505.25 162.66 576.60A121.3 121.3 0 0 1 159.95 572.72Q260.75 505.25 381.75 496.70Z"/><path class="cr" d="M245.27 384.94A121.3 121.3 0 0 1 250.60 384.38Q260.75 505.25 330.62 604.40A121.3 121.3 0 0 1 326.80 606.99Q260.75 505.25 245.27 384.94Z"/><path class="cg" d="M314.06 396.29A121.3 121.3 0 0 1 318.41 398.53Q260.75 505.25 184.27 599.40A121.3 121.3 0 0 1 180.49 596.20Q260.75 505.25 314.06 396.29Z"/><path class="cg" d="M357.75 432.42A121.3 121.3 0 0 1 360.84 436.72Q260.75 505.25 150.68 556.22A121.3 121.3 0 0 1 148.77 551.88Q260.75 505.25 357.75 432.42Z"/><path class="cg" d="M154.45 446.81A121.3 121.3 0 0 1 157.38 441.78Q260.75 505.25 219.46 619.31A121.3 121.3 0 0 1 214.91 617.55Q260.75 505.25 154.45 446.81Z"/><path class="cr" d="M344.71 417.70A121.3 121.3 0 0 1 348.01 420.99Q260.75 505.25 344.86 592.65A121.3 121.3 0 0 1 341.47 595.79Q260.75 505.25 344.71 417.70Z"/><path class="cg" d="M301.91 391.15A121.3 121.3 0 0 1 306.39 392.86Q260.75 505.25 286.67 623.75A121.3 121.3 0 0 1 282.15 624.65Q260.75 505.25 301.91 391.15Z"/><path class="cr" d="M207.01 396.51A121.3 121.3 0 0 1 211.99 394.18Q260.75 505.25 322.88 609.43A121.3 121.3 0 0 1 318.87 611.72Q260.75 505.25 207.01 396.51Z"/><path class="cg" d="M297.37 389.61A121.3 121.3 0 0 1 301.91 391.15Q260.75 505.25 180.49 596.20A121.3 121.3 0 0 1 176.86 592.86Q260.75 505.25 297.37 389.61Z"/><path class="cg" d="M380.03 483.22A121.3 121.3 0 0 1 380.80 487.91Q260.75 505.25 357.42 578.52A121.3 121.3 0 0 1 354.10 582.71Q260.75 505.25 380.03 483.22Z"/><path class="cr" d="M181.97 413.01A121.3 121.3 0 0 1 186.07 409.66Q260.75 505.25 310.60 615.83A121.3 121.3 0 0 1 306.35 617.65Q260.75 505.25 181.97 413.01Z"/><path class="cg" d="M381.10 490.11A121.3 121.3 0 0 1 381.62 495.08Q260.75 505.25 204.89 612.92A121.3 121.3 0 0 1 200.55 610.56Q260.75 505.25 381.10 490.11Z"/><path class="cr" d="M290.83 387.74A121.3 121.3 0 0 1 295.77 389.11Q260.75 505.25 337.97 598.80A121.3 121.3 0 0 1 334.35 601.67Q260.75 505.25 290.83 387.74Z"/><path class="cg" d="M157.38 441.78A121.3 121.3 0 0 1 160.54 436.89Q260.75 505.25 371.53 554.67A121.3 121.3 0 0 1 369.36 559.26Q260.75 505.25 157.38 441.78Z"/><path class="cg" d="M218.14 391.68A121.3 121.3 0 0 1 223.21 389.91Q260.75 505.25 273.02 625.93A121.3 121.3 0 0 1 268.43 626.31Q260.75 505.25 218.14 391.68Z"/><path class="cg" d="M382.00 501.66A121.3 121.3 0 0 1 382.04 506.63Q260.75 505.25 252.82 626.29A121.3 121.3 0 0 1 247.95 625.87Q260.75 505.25 382.00 501.66Z"/><path class="cg" d="M139.46 506.52A121.3 121.3 0 0 1 139.49 502.07Q260.75 505.25 364.47 568.14A121.3 121.3 0 0 1 361.75 572.42Q260.75 505.25 139.46 506.52Z"/><path class="cg" d="M341.28 414.54A121.3 121.3 0 0 1 344.71 417.70Q260.75 505.25 295.59 621.44A121.3 121.3 0 0 1 291.15 622.68Q260.75 505.25 341.28 414.54Z"/><path class="cg" d="M161.63 435.33A121.3 121.3 0 0 1 165.26 430.45Q260.75 505.25 145.48 543.00A121.3 121.3 0 0 1 144.09 538.48Q260.75 505.25 161.63 435.33Z"/><path class="cg" d="M195.16 403.21A121.3 121.3 0 0 1 199.37 400.63Q260.75 505.25 376.84 540.42A121.3 121.3 0 0 1 375.27 545.24Q260.75 505.25 195.16 403.21Z"/><path class="cr" d="M191.06 405.97A121.3 121.3 0 0 1 195.16 403.21Q260.75 505.25 318.87 611.72A121.3 121.3 0 0 1 314.77 613.86Q260.75 505.25 191.06 405.97Z"/><path class="cg" d="M213.16 393.68A121.3 121.3 0 0 1 218.14 391.68Q260.75 505.25 268.43 626.31A121.3 121.3 0 0 1 263.83 626.51Q260.75 505.25 213.16 393.68Z"/><path class="cg" d="M170.32 424.40A121.3 121.3 0 0 1 173.79 420.68Q260.75 505.25 224.09 620.88A121.3 121.3 0 0 1 219.46 619.31Q260.75 505.25 170.32 424.40Z"/><path class="cg" d="M258.84 383.96A121.3 121.3 0 0 1 263.93 383.99Q260.75 505.25 147.04 547.48A121.3 121.3 0 0 1 145.48 543.00Q260.75 505.25 258.84 383.96Z"/><path class="cg" d="M353.81 427.44A121.3 121.3 0 0 1 357.11 431.58Q260.75 505.25 148.77 551.88A121.3 121.3 0 0 1 147.04 547.48Q260.75 505.25 353.81 427.44Z"/><path class="cg" d="M382.00 508.83A121.3 121.3 0 0 1 381.75 513.80Q260.75 505.25 165.52 580.38A121.3 121.3 0 0 1 162.66 576.60Q260.75 505.25 382.00 508.83Z"/><path class="cg" d="M151.45 452.65A121.3 121.3 0 0 1 153.75 448.12Q260.75 505.25 214.91 617.55A121.3 121.3 0 0 1 210.42 615.62Q260.75 505.25 151.45 452.65Z"/><path class="cg" d="M360.84 436.72A121.3 121.3 0 0 1 363.73 441.15Q260.75 505.25 243.11 625.26A121.3 121.3 0 0 1 238.29 624.45Q260.75 505.25 360.84 436.72Z"/><path class="cg" d="M326.10 403.06A121.3 121.3 0 0 1 330.55 406.04Q260.75 505.25 192.18 605.31A121.3 121.3 0 0 1 188.16 602.43Q260.75 505.25 326.10 403.06Z"/><path class="cg" d="M373.10 459.52A121.3 121.3 0 0 1 374.95 464.36Q260.75 505.25 247.95 625.87A121.3 121.3 0 0 1 243.11 625.26Q260.75 505.25 373.10 459.52Z"/><path class="cr" d="M308.09 393.57A121.3 121.3 0 0 1 312.45 395.52Q260.75 505.25 341.47 595.79A121.3 121.3 0 0 1 337.97 598.80Q260.75 505.25 308.09 393.57Z"/><path class="cg" d="M336.10 410.19A121.3 121.3 0 0 1 340.01 413.43Q260.75 505.25 291.15 622.68A121.3 121.3 0 0 1 286.67 623.75Q260.75 505.25 336.10 410.19Z"/><path class="cg" d="M229.39 388.07A121.3 121.3 0 0 1 233.94 386.95Q260.75 505.25 233.51 623.45A121.3 121.3 0 0 1 228.77 622.26Q260.75 505.25 229.39 388.07Z"/><path class="cr" d="M238.53 386.00A121.3 121.3 0 0 1 243.16 385.23Q260.75 505.25 326.80 606.99A121.3 121.3 0 0 1 322.88 609.43Q260.75 505.25 238.53 386.00Z"/><path class="cg" d="M146.69 463.96A121.3 121.3 0 0 1 148.76 458.63Q260.75 505.25 369.36 559.26A121.3 121.3 0 0 1 367.01 563.75Q260.75 505.25 146.69 463.96Z"/><path class="cg" d="M149.34 457.27A121.3 121.3 0 0 1 151.45 452.65Q260.75 505.25 144.09 538.48A121.3 121.3 0 0 1 142.88 533.90Q260.75 505.25 149.34 457.27Z"/><path class="cg" d="M142.80 476.93A121.3 121.3 0 0 1 143.98 472.43Q260.75 505.25 259.22 626.54A121.3 121.3 0 0 1 254.61 626.39Q260.75 505.25 142.80 476.93Z"/><path class="cg" d="M266.04 384.07A121.3 121.3 0 0 1 270.58 384.35Q260.75 505.25 378.21 535.54A121.3 121.3 0 0 1 376.84 540.42Q260.75 505.25 266.04 384.07Z"/><path class="cg" d="M224.88 389.37A121.3 121.3 0 0 1 229.39 388.07Q260.75 505.25 173.36 589.37A121.3 121.3 0 0 1 170.01 585.74Q260.75 505.25 224.88 389.37Z"/><path class="cg" d="M272.69 384.54A121.3 121.3 0 0 1 277.42 385.10Q260.75 505.25 238.29 624.45A121.3 121.3 0 0 1 233.51 623.45Q260.75 505.25 272.69 384.54Z"/><path class="cg" d="M379.08 478.56A121.3 121.3 0 0 1 380.03 483.22Q260.75 505.25 200.55 610.56A121.3 121.3 0 0 1 196.31 608.02Q260.75 505.25 379.08 478.56Z"/><path class="cg" d="M173.79 420.68A121.3 121.3 0 0 1 177.41 417.12Q260.75 505.25 228.77 622.26A121.3 121.3 0 0 1 224.09 620.88Q260.75 505.25 173.79 420.68Z"/><path class="cg" d="M165.26 430.45A121.3 121.3 0 0 1 169.13 425.75Q260.75 505.25 373.50 550.00A121.3 121.3 0 0 1 371.53 554.67Q260.75 505.25 165.26 430.45Z"/><path class="cr" d="M284.32 386.26A121.3 121.3 0 0 1 289.23 387.34Q260.75 505.25 334.35 601.67A121.3 121.3 0 0 1 330.62 604.40Q260.75 505.25 284.32 386.26Z"/><path class="cg" d="M144.54 470.49A121.3 121.3 0 0 1 146.27 465.16Q260.75 505.25 367.01 563.75A121.3 121.3 0 0 1 364.47 568.14Q260.75 505.25 144.54 470.49Z"/><path class="cg" d="M371.04 454.76A121.3 121.3 0 0 1 373.10 459.52Q260.75 505.25 154.99 564.65A121.3 121.3 0 0 1 152.75 560.48Q260.75 505.25 371.04 454.76Z"/><path class="cg" d="M141.80 481.48A121.3 121.3 0 0 1 142.80 476.93Q260.75 505.25 170.01 585.74A121.3 121.3 0 0 1 166.80 581.98Q260.75 505.25 141.80 481.48Z"/><path class="cg" d="M367.95 448.49A121.3 121.3 0 0 1 370.37 453.32Q260.75 505.25 354.10 582.71A121.3 121.3 0 0 1 350.59 586.75Q260.75 505.25 367.95 448.49Z"/><path class="cr" d="M187.08 408.89A121.3 121.3 0 0 1 191.06 405.97Q260.75 505.25 314.77 613.86A121.3 121.3 0 0 1 310.60 615.83Q260.75 505.25 187.08 408.89Z"/><path class="cg" d="M375.48 465.86A121.3 121.3 0 0 1 376.92 470.33Q260.75 505.25 157.39 568.73A121.3 121.3 0 0 1 154.99 564.65Q260.75 505.25 375.48 465.86Z"/>
<path d="M132.28 513.78A128.75 128.75 0 0 1 132.04 508.62L136.39 508.51A124.4 124.4 0 0 0 136.62 513.49Z" fill="#d6281c"/>
<path d="M132.01 506.60A128.75 128.75 0 0 1 132.04 501.88L136.39 501.99A124.4 124.4 0 0 0 136.36 506.55Z" fill="#5cb33a"/>
<path d="M132.14 499.30A128.75 128.75 0 0 1 132.43 494.70L136.77 495.06A124.4 124.4 0 0 0 136.48 499.50Z" fill="#d6281c"/>
<path d="M132.68 492.02A128.75 128.75 0 0 1 134.07 482.23L138.35 483.01A124.4 124.4 0 0 0 137.01 492.46Z" fill="#d6281c"/>
<path d="M134.50 480.02A128.75 128.75 0 0 1 136.80 470.41L140.99 471.59A124.4 124.4 0 0 0 138.76 480.87Z" fill="#d6281c"/>
<path d="M137.40 468.36A128.75 128.75 0 0 1 139.24 462.70L143.34 464.13A124.4 124.4 0 0 0 141.57 469.61Z" fill="#d6281c"/>
<path d="M139.69 461.43A128.75 128.75 0 0 1 141.89 455.77L145.90 457.44A124.4 124.4 0 0 0 143.78 462.91Z" fill="#d6281c"/>
<path d="M142.50 454.32A128.75 128.75 0 0 1 147.18 444.61L151.01 446.66A124.4 124.4 0 0 0 146.50 456.04Z" fill="#d6281c"/>
<path d="M147.93 443.22A128.75 128.75 0 0 1 154.39 432.70L157.98 435.15A124.4 124.4 0 0 0 151.74 445.32Z" fill="#d6281c"/>
<path d="M155.54 431.03A128.75 128.75 0 0 1 163.51 420.87L166.79 423.72A124.4 124.4 0 0 0 159.10 433.54Z" fill="#d6281c"/>
<path d="M164.77 419.43A128.75 128.75 0 0 1 176.28 408.08L179.14 411.36A124.4 124.4 0 0 0 168.01 422.33Z" fill="#d6281c"/>
<path d="M177.13 407.35A128.75 128.75 0 0 1 181.48 403.79L184.16 407.22A124.4 124.4 0 0 0 179.96 410.66Z" fill="#d6281c"/>
<path d="M182.55 402.97A128.75 128.75 0 0 1 195.60 394.20L197.80 397.95A124.4 124.4 0 0 0 185.19 406.42Z" fill="#d6281c"/>
<path d="M197.35 393.19A128.75 128.75 0 0 1 201.90 390.74L203.89 394.61A124.4 124.4 0 0 0 199.49 396.98Z" fill="#d6281c"/>
<path d="M203.70 389.83A128.75 128.75 0 0 1 209.00 387.36L210.75 391.34A124.4 124.4 0 0 0 205.63 393.73Z" fill="#d6281c"/>
<path d="M210.24 386.82A128.75 128.75 0 0 1 220.90 382.82L222.25 386.96A124.4 124.4 0 0 0 211.94 390.82Z" fill="#d6281c"/>
<path d="M222.68 382.26A128.75 128.75 0 0 1 242.08 377.86L242.71 382.17A124.4 124.4 0 0 0 223.96 386.41Z" fill="#d6281c"/>
<path d="M244.32 377.55A128.75 128.75 0 0 1 249.98 376.95L250.34 381.29A124.4 124.4 0 0 0 244.88 381.87Z" fill="#d6281c"/>
<path d="M251.77 376.81A128.75 128.75 0 0 1 257.04 376.55L257.17 380.90A124.4 124.4 0 0 0 252.07 381.15Z" fill="#d6281c"/>
<path d="M258.73 376.52A128.75 128.75 0 0 1 264.12 376.54L264.01 380.89A124.4 124.4 0 0 0 258.80 380.87Z" fill="#d6281c"/>
<path d="M266.37 376.62A128.75 128.75 0 0 1 271.19 376.92L270.83 381.26A124.4 124.4 0 0 0 266.18 380.97Z" fill="#d6281c"/>
<path d="M273.43 377.13A128.75 128.75 0 0 1 278.45 377.72L277.85 382.03A124.4 124.4 0 0 0 273.00 381.45Z" fill="#d6281c"/>
<path d="M280.51 378.03A128.75 128.75 0 0 1 290.98 380.10L289.96 384.33A124.4 124.4 0 0 0 279.85 382.32Z" fill="#d6281c"/>
<path d="M292.68 380.52A128.75 128.75 0 0 1 297.92 381.98L296.66 386.15A124.4 124.4 0 0 0 291.60 384.74Z" fill="#d6281c"/>
<path d="M299.62 382.51A128.75 128.75 0 0 1 309.19 385.96L307.55 389.99A124.4 124.4 0 0 0 298.30 386.65Z" fill="#d6281c"/>
<path d="M310.99 386.71A128.75 128.75 0 0 1 315.63 388.78L313.78 392.72A124.4 124.4 0 0 0 309.30 390.71Z" fill="#d6281c"/>
<path d="M317.33 389.60A128.75 128.75 0 0 1 321.95 391.97L319.88 395.80A124.4 124.4 0 0 0 315.42 393.51Z" fill="#5cb33a"/>
<path d="M323.97 393.09A128.75 128.75 0 0 1 328.40 395.71L326.12 399.41A124.4 124.4 0 0 0 321.84 396.88Z" fill="#d6281c"/>
<path d="M330.12 396.78A128.75 128.75 0 0 1 334.84 399.95L332.33 403.51A124.4 124.4 0 0 0 327.77 400.45Z" fill="#d6281c"/>
<path d="M336.43 401.09A128.75 128.75 0 0 1 344.88 407.79L342.04 411.08A124.4 124.4 0 0 0 333.87 404.61Z" fill="#d6281c"/>
<path d="M346.23 408.97A128.75 128.75 0 0 1 353.36 415.81L350.24 418.83A124.4 124.4 0 0 0 343.34 412.22Z" fill="#d6281c"/>
<path d="M353.99 416.46A128.75 128.75 0 0 1 358.65 421.63L355.34 424.46A124.4 124.4 0 0 0 350.84 419.46Z" fill="#d6281c"/>
<path d="M359.52 422.66A128.75 128.75 0 0 1 363.03 427.05L359.58 429.69A124.4 124.4 0 0 0 356.19 425.45Z" fill="#d6281c"/>
<path d="M363.71 427.95A128.75 128.75 0 0 1 370.06 437.21L366.36 439.51A124.4 124.4 0 0 0 360.23 430.56Z" fill="#d6281c"/>
<path d="M370.53 437.98A128.75 128.75 0 0 1 373.57 443.22L369.76 445.32A124.4 124.4 0 0 0 366.82 440.25Z" fill="#d6281c"/>
<path d="M374.53 445.00A128.75 128.75 0 0 1 377.10 450.13L373.17 451.99A124.4 124.4 0 0 0 370.69 447.04Z" fill="#d6281c"/>
<path d="M377.81 451.65A128.75 128.75 0 0 1 381.96 461.85L377.87 463.32A124.4 124.4 0 0 0 373.86 453.46Z" fill="#d6281c"/>
<path d="M382.52 463.44A128.75 128.75 0 0 1 384.05 468.19L379.88 469.44A124.4 124.4 0 0 0 378.41 464.85Z" fill="#d6281c"/>
<path d="M384.56 469.91A128.75 128.75 0 0 1 385.94 475.19L381.71 476.21A124.4 124.4 0 0 0 380.37 471.11Z" fill="#d6281c"/>
<path d="M386.35 476.92A128.75 128.75 0 0 1 388.18 486.84L383.87 487.46A124.4 124.4 0 0 0 382.10 477.88Z" fill="#d6281c"/>
<path d="M388.49 489.18A128.75 128.75 0 0 1 389.05 494.45L384.71 494.82A124.4 124.4 0 0 0 384.18 489.72Z" fill="#d6281c"/>
<path d="M389.18 496.18A128.75 128.75 0 0 1 389.49 506.71L385.14 506.66A124.4 124.4 0 0 0 384.84 496.49Z" fill="#d6281c"/>
<path d="M389.44 509.05A128.75 128.75 0 0 1 389.18 514.32L384.84 514.01A124.4 124.4 0 0 0 385.10 508.92Z" fill="#5cb33a"/>
<path d="M385.42 537.40A128.75 128.75 0 0 1 364.88 580.96L361.37 578.41A124.4 124.4 0 0 0 381.21 536.31Z" fill="#5cb33a"/>
<path d="M363.36 583.02A128.75 128.75 0 0 1 352.20 595.88L349.11 592.81A124.4 124.4 0 0 0 359.89 580.39Z" fill="#5cb33a"/>
<path d="M350.03 598.02A128.75 128.75 0 0 1 304.57 626.31L303.09 622.22A124.4 124.4 0 0 0 347.01 594.89Z" fill="#d6281c"/>
<path d="M302.39 627.08A128.75 128.75 0 0 1 254.24 633.84L254.46 629.49A124.4 124.4 0 0 0 300.98 622.96Z" fill="#5cb33a"/>
<path d="M252.33 633.72A128.75 128.75 0 0 1 202.66 620.15L204.62 616.27A124.4 124.4 0 0 0 252.61 629.38Z" fill="#5cb33a"/>
<path d="M201.46 619.54A128.75 128.75 0 0 1 161.03 586.69L164.40 583.94A124.4 124.4 0 0 0 203.46 615.67Z" fill="#5cb33a"/>
<path d="M159.67 584.99A128.75 128.75 0 0 1 135.64 535.66L139.87 534.63A124.4 124.4 0 0 0 163.08 582.30Z" fill="#5cb33a"/>
<g font-size="5.7" fill="#111" stroke="#111" stroke-width="0.1"><text transform="translate(260.75 505.25) rotate(-2.65) translate(-131.6 0)" text-anchor="end" dy="2">ANK2</text><text transform="translate(260.75 505.25) rotate(0.45) translate(-131.6 0)" text-anchor="end" dy="2">CACNG8</text><text transform="translate(260.75 505.25) rotate(3.68) translate(-131.6 0)" text-anchor="end" dy="2">CD38</text><text transform="translate(260.75 505.25) rotate(8.10) translate(-131.6 0)" text-anchor="end" dy="2">CDKN1C</text><text transform="translate(260.75 505.25) rotate(13.50) translate(-131.6 0)" text-anchor="end" dy="2">COL4A2</text><text transform="translate(260.75 505.25) rotate(17.98) translate(-131.6 0)" text-anchor="end" dy="2">CRMP1</text><text transform="translate(260.75 505.25) rotate(21.25) translate(-131.6 0)" text-anchor="end" dy="2">DMTN</text><text transform="translate(260.75 505.25) rotate(25.70) translate(-131.6 0)" text-anchor="end" dy="2">DSP</text><text transform="translate(260.75 505.25) rotate(31.55) translate(-131.6 0)" text-anchor="end" dy="2">EFNA5</text><text transform="translate(260.75 505.25) rotate(38.07) translate(-131.6 0)" text-anchor="end" dy="2">EGR1</text><text transform="translate(260.75 505.25) rotate(45.40) translate(-131.6 0)" text-anchor="end" dy="2">FAM102A</text><text transform="translate(260.75 505.25) rotate(50.75) translate(-131.6 0)" text-anchor="end" dy="2">FAM160A1</text><text transform="translate(260.75 505.25) rotate(56.10) translate(-131.6 0)" text-anchor="end" dy="2">FAT3</text><text transform="translate(260.75 505.25) rotate(61.65) translate(-131.6 0)" text-anchor="end" dy="2">GALNT18</text><text transform="translate(260.75 505.25) rotate(65.00) translate(-131.6 0)" text-anchor="end" dy="2">HEY1</text><text transform="translate(260.75 505.25) rotate(69.44) translate(-131.6 0)" text-anchor="end" dy="2">IFIT2</text><text transform="translate(260.75 505.25) rotate(77.23) translate(-131.6 0)" text-anchor="end" dy="2">IL1R1</text><text transform="translate(260.75 505.25) rotate(83.94) translate(-131.6 0)" text-anchor="end" dy="2">IQSEC1</text><text transform="translate(260.75 505.25) rotate(87.18) translate(-131.6 0)" text-anchor="end" dy="2">KLB</text><text transform="translate(260.75 505.25) rotate(270.30) translate(131.6 0)" dy="2">LIPA</text><text transform="translate(260.75 505.25) rotate(273.57) translate(131.6 0)" dy="2">LYPD6</text><text transform="translate(260.75 505.25) rotate(276.77) translate(131.6 0)" dy="2">MFGE8</text><text transform="translate(260.75 505.25) rotate(281.20) translate(131.6 0)" dy="2">MOB3B</text><text transform="translate(260.75 505.25) rotate(285.57) translate(131.6 0)" dy="2">NALCN</text><text transform="translate(260.75 505.25) rotate(289.84) translate(131.6 0)" dy="2">NEO1</text><text transform="translate(260.75 505.25) rotate(294.10) translate(131.6 0)" dy="2">NR4A2</text><text transform="translate(260.75 505.25) rotate(297.23) translate(131.6 0)" dy="2">PCDH10</text><text transform="translate(260.75 505.25) rotate(300.56) translate(131.6 0)" dy="2">PCLO</text><text transform="translate(260.75 505.25) rotate(303.87) translate(131.6 0)" dy="2">PLIN5</text><text transform="translate(260.75 505.25) rotate(308.40) translate(131.6 0)" dy="2">PLSCR4</text><text transform="translate(260.75 505.25) rotate(313.80) translate(131.6 0)" dy="2">PRKCZ</text><text transform="translate(260.75 505.25) rotate(317.95) translate(131.6 0)" dy="2">PYGL</text><text transform="translate(260.75 505.25) rotate(321.35) translate(131.6 0)" dy="2">RELN</text><text transform="translate(260.75 505.25) rotate(325.60) translate(131.6 0)" dy="2">RIMS1</text><text transform="translate(260.75 505.25) rotate(329.85) translate(131.6 0)" dy="2">SCN3A</text><text transform="translate(260.75 505.25) rotate(333.38) translate(131.6 0)" dy="2">SCN3B</text><text transform="translate(260.75 505.25) rotate(337.85) translate(131.6 0)" dy="2">SELE</text><text transform="translate(260.75 505.25) rotate(342.16) translate(131.6 0)" dy="2">SEMA6A</text><text transform="translate(260.75 505.25) rotate(345.28) translate(131.6 0)" dy="2">SLC40A1</text><text transform="translate(260.75 505.25) rotate(349.53) translate(131.6 0)" dy="2">SLC45A4</text><text transform="translate(260.75 505.25) rotate(354.01) translate(131.6 0)" dy="2">TC2N</text><text transform="translate(260.75 505.25) rotate(358.30) translate(131.6 0)" dy="2">TIMP3</text><text transform="translate(260.75 505.25) rotate(362.87) translate(131.6 0)" dy="2">VCAN</text></g>
<g font-size="6" fill="#111" stroke="#111" stroke-width="0.1"><text transform="translate(260.75 505.25) rotate(25.24) translate(133.5 0)" dy="2.1">miR-9</text><text transform="translate(260.75 505.25) rotate(40.95) translate(133.5 0)" dy="2.1">miR-100</text><text transform="translate(260.75 505.25) rotate(58.10) translate(133.5 0)" dy="2.1">miR-18b</text><text transform="translate(260.75 505.25) rotate(82.02) translate(133.5 0)" dy="2.1">miR-221</text><text transform="translate(260.75 505.25) rotate(-74.72) translate(-133.5 0)" text-anchor="end" dy="2.1">miR-10a</text><text transform="translate(260.75 505.25) rotate(-50.91) translate(-133.5 0)" text-anchor="end" dy="2.1">miR-320</text><text transform="translate(260.75 505.25) rotate(-25.97) translate(-133.5 0)" text-anchor="end" dy="2.1">miR-31</text></g>
</svg>
</body></html>
